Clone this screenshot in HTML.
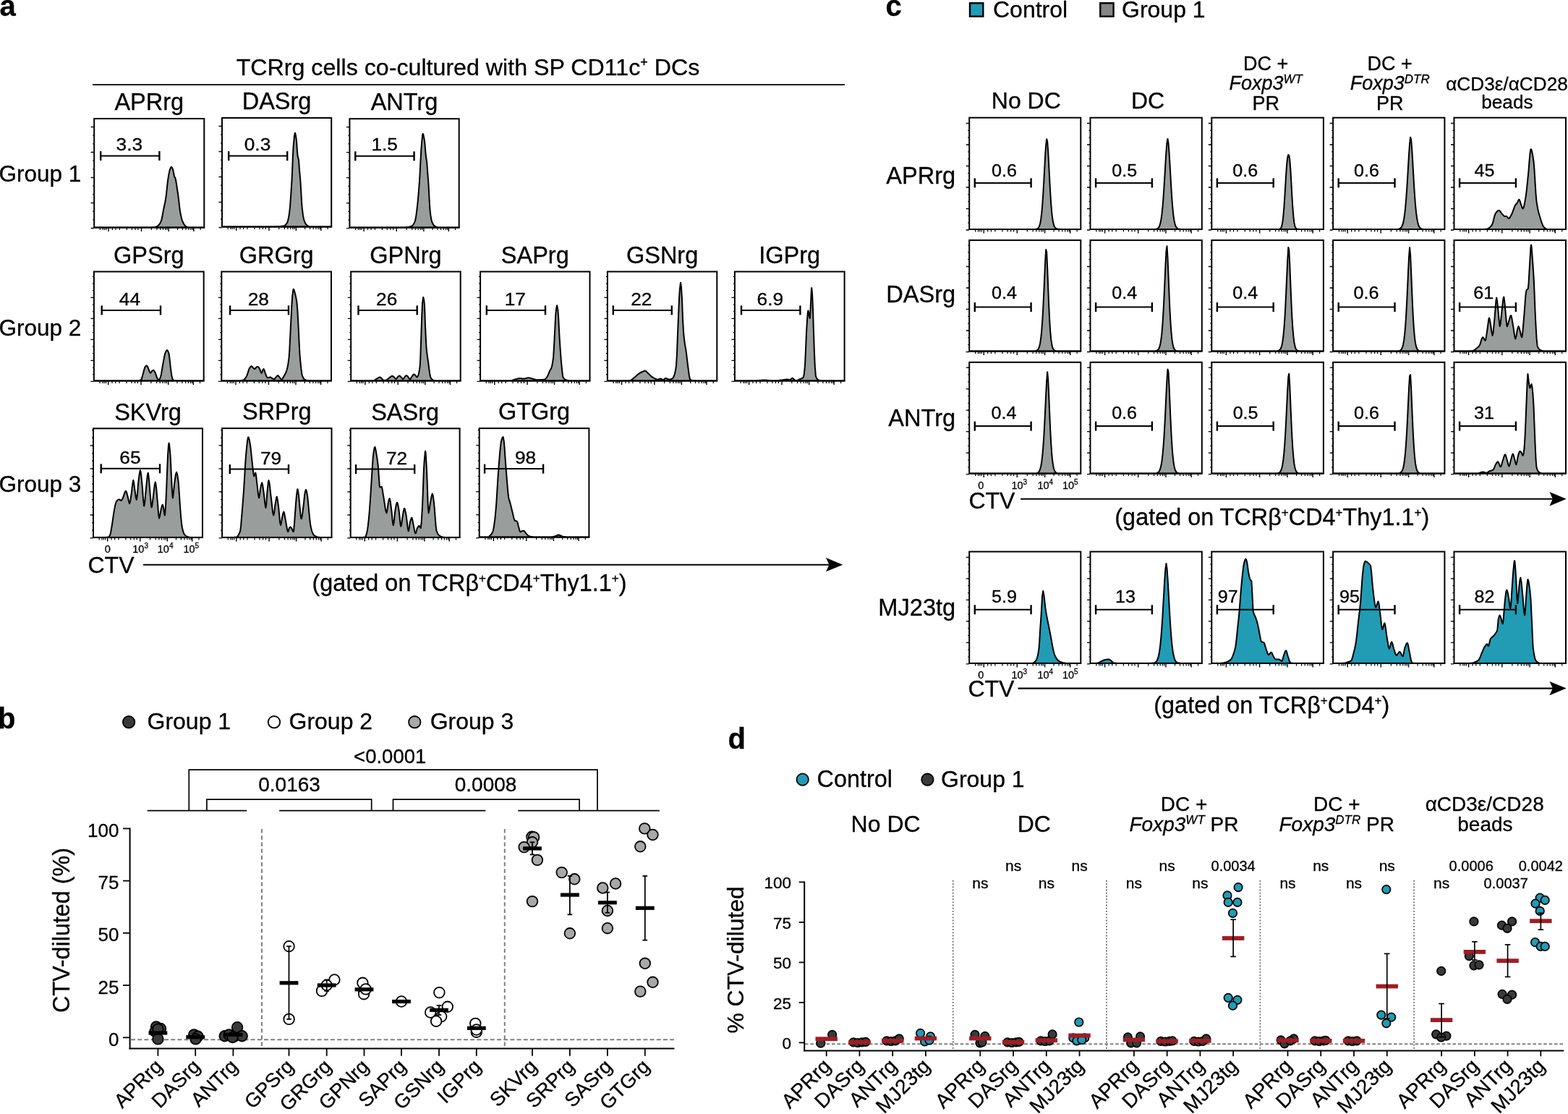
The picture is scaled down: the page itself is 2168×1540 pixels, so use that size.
<!DOCTYPE html>
<html><head><meta charset="utf-8"><title>Figure</title>
<style>html,body{margin:0;padding:0;background:#fff;}svg{display:block;}text{stroke:#000;stroke-width:0.3px;}</style></head>
<body><svg width="2168" height="1540" viewBox="0 0 2168 1540" font-family="Liberation Sans, Arial, Helvetica, sans-serif" fill="#000">
<rect width="2168" height="1540" fill="#fff"/>
<text x="-0.5" y="22" font-size="40" font-weight="bold">a</text>
<text x="647" y="104.4" font-size="32.2" text-anchor="middle">TCRrg cells co-cultured with SP CD11c<tspan font-size="18" dy="-12">+</tspan><tspan dy="12"> DCs</tspan></text>
<line x1="128" y1="117.2" x2="1168" y2="117.2" stroke="#000" stroke-width="1.8"/>
<path d="M130.2 314.5 130.2 314.5 207.2 314.5 208.2 314.4 209.2 314.4 210.2 314.3 211.2 314.3 212.2 314.2 213.2 314.1 214.0 314.0 214.2 314.0 215.2 313.7 216.2 313.3 217.2 312.8 218.2 312.1 219.0 311.5 219.2 311.3 220.2 310.3 221.2 308.8 222.2 306.9 223.0 305.0 223.2 304.4 224.2 300.1 225.2 294.4 226.0 290.0 226.2 289.0 227.2 284.4 228.2 279.7 229.2 274.3 229.4 273.0 230.2 266.5 231.2 256.7 232.0 250.0 232.2 248.6 233.2 242.1 234.2 237.1 234.5 236.0 235.2 233.8 236.2 231.4 237.0 230.6 237.2 230.7 238.2 232.2 239.2 235.0 239.5 236.0 240.2 239.8 241.0 244.0 241.2 244.4 242.2 245.9 242.5 246.5 243.2 249.5 244.2 256.0 244.5 258.0 245.2 262.5 246.2 269.3 246.7 273.0 247.2 277.1 248.2 286.1 249.0 292.0 249.2 293.1 250.2 298.3 251.2 302.5 252.0 305.0 252.2 305.5 253.2 307.8 254.2 309.7 255.2 311.2 256.0 312.0 256.2 312.2 257.2 312.9 258.2 313.6 259.2 314.1 260.2 314.4 261.0 314.5 282.3 314.5 Z" fill="#999d9c" stroke="#000" stroke-width="2" stroke-linejoin="round"/>
<path d="M125.7 315.5h4M125.7 280.5h4M125.7 245.5h4M125.7 210.5h4M125.7 175.5h4M150.0 315.0v5.0M195.5 315.0v5.0M233.2 315.0v5.0M267.9 315.0v5.0" stroke="#000" stroke-width="1.4" fill="none"/>
<path d="M128.2 303.8h1.5M128.2 292.2h1.5M128.2 280.5h1.5M128.2 268.8h1.5M128.2 257.2h1.5M128.2 245.5h1.5M128.2 233.8h1.5M128.2 222.2h1.5M128.2 210.5h1.5M128.2 198.8h1.5M128.2 187.2h1.5M128.2 175.5h1.5M138.4 315.0v3.0M142.3 315.0v3.0M144.6 315.0v3.0M146.9 315.0v3.0M155.4 315.0v3.0M160.0 315.0v3.0M165.4 315.0v3.0M175.4 315.0v3.0M182.4 315.0v3.0M187.0 315.0v3.0M190.8 315.0v3.0M209.3 315.0v3.0M217.0 315.0v3.0M221.7 315.0v3.0M225.5 315.0v3.0M228.6 315.0v3.0M230.9 315.0v3.0M245.5 315.0v3.0M252.5 315.0v3.0M257.1 315.0v3.0M261.0 315.0v3.0M264.0 315.0v3.0M266.3 315.0v3.0M277.1 315.0v3.0" stroke="#000" stroke-width="1.2" fill="none"/>
<rect x="130.2" y="164" width="152.1" height="150.5" fill="none" stroke="#000" stroke-width="2"/>
<text x="206.25" y="152.2" font-size="32.5" text-anchor="middle">APRrg</text>
<line x1="139.2" y1="215.4" x2="220.4" y2="215.4" stroke="#000" stroke-width="2"/>
<line x1="139.2" y1="208.9" x2="139.2" y2="221.9" stroke="#000" stroke-width="2.4"/>
<line x1="220.4" y1="208.9" x2="220.4" y2="221.9" stroke="#000" stroke-width="2.4"/>
<text transform="translate(178.9,207.8) scale(1.12,1)" font-size="23.5" text-anchor="middle">3.3</text>
<path d="M307 313.5 307.0 313.5 373.0 313.5 374.0 313.4 375.0 313.4 376.0 313.4 377.0 313.4 378.0 313.3 379.0 313.3 380.0 313.2 381.0 313.2 382.0 313.1 383.0 313.1 384.0 313.0 385.0 313.0 385.0 313.0 386.0 313.0 387.0 312.9 388.0 312.9 389.0 312.8 390.0 312.7 391.0 312.6 392.0 312.5 392.0 312.5 393.0 312.2 394.0 311.6 395.0 310.7 396.0 309.5 397.0 308.0 397.0 308.0 398.0 305.4 399.0 300.9 400.0 295.0 400.0 295.0 401.0 286.0 402.0 273.0 403.0 257.3 403.5 249.0 404.0 238.6 405.0 213.9 405.5 205.0 406.0 198.6 407.0 187.7 407.9 183.7 408.0 183.7 409.0 187.6 410.0 195.0 410.0 195.0 411.0 209.3 411.5 215.0 412.0 217.2 412.9 220.6 413.0 221.4 414.0 235.0 414.0 235.0 415.0 245.5 415.3 249.0 416.0 260.2 417.0 278.4 417.5 285.0 418.0 289.8 419.0 297.9 420.0 303.0 420.0 303.0 421.0 306.0 422.0 308.3 423.0 310.0 424.0 311.0 424.0 311.0 425.0 311.7 426.0 312.3 427.0 312.8 428.0 313.2 429.0 313.4 430.0 313.5 458.2 313.5 Z" fill="#999d9c" stroke="#000" stroke-width="2" stroke-linejoin="round"/>
<path d="M302.5 314.5h4M302.5 279.5h4M302.5 244.5h4M302.5 209.5h4M302.5 174.5h4M326.7 314.0v5.0M371.9 314.0v5.0M409.4 314.0v5.0M443.9 314.0v5.0" stroke="#000" stroke-width="1.4" fill="none"/>
<path d="M305.0 302.8h1.5M305.0 291.2h1.5M305.0 279.5h1.5M305.0 267.8h1.5M305.0 256.2h1.5M305.0 244.5h1.5M305.0 232.8h1.5M305.0 221.2h1.5M305.0 209.5h1.5M305.0 197.8h1.5M305.0 186.2h1.5M305.0 174.5h1.5M315.2 314.0v3.0M319.0 314.0v3.0M321.3 314.0v3.0M323.6 314.0v3.0M332.0 314.0v3.0M336.6 314.0v3.0M342.0 314.0v3.0M352.0 314.0v3.0M358.9 314.0v3.0M363.4 314.0v3.0M367.3 314.0v3.0M385.7 314.0v3.0M393.3 314.0v3.0M397.9 314.0v3.0M401.8 314.0v3.0M404.8 314.0v3.0M407.1 314.0v3.0M421.7 314.0v3.0M428.6 314.0v3.0M433.2 314.0v3.0M437.0 314.0v3.0M440.0 314.0v3.0M442.3 314.0v3.0M453.1 314.0v3.0" stroke="#000" stroke-width="1.2" fill="none"/>
<rect x="307" y="163" width="151.2" height="150.5" fill="none" stroke="#000" stroke-width="2"/>
<text x="382.6" y="151.2" font-size="32.5" text-anchor="middle">DASrg</text>
<line x1="316.2" y1="215.6" x2="397.2" y2="215.6" stroke="#000" stroke-width="2"/>
<line x1="316.2" y1="209.1" x2="316.2" y2="222.1" stroke="#000" stroke-width="2.4"/>
<line x1="397.2" y1="209.1" x2="397.2" y2="222.1" stroke="#000" stroke-width="2.4"/>
<text transform="translate(356,208.3) scale(1.12,1)" font-size="23.5" text-anchor="middle">0.3</text>
<path d="M483.4 314.6 483.4 314.6 537.4 314.6 538.4 314.5 539.4 314.5 540.4 314.5 541.4 314.5 542.4 314.5 543.4 314.5 544.4 314.5 545.4 314.5 546.4 314.5 547.4 314.5 548.4 314.5 549.4 314.5 550.4 314.5 551.4 314.5 552.4 314.5 553.4 314.5 554.4 314.5 555.0 314.5 555.4 314.5 556.4 314.5 557.4 314.4 558.4 314.4 559.4 314.3 560.4 314.3 561.4 314.2 562.4 314.1 563.4 314.0 564.4 313.9 565.0 313.8 565.4 313.7 566.4 313.5 567.4 313.2 568.4 312.8 569.4 312.3 570.0 312.0 570.4 311.7 571.4 310.6 572.4 308.9 573.4 306.6 574.0 305.0 574.4 303.6 575.4 297.8 576.4 290.1 577.0 285.0 577.4 281.4 578.4 270.8 579.4 258.3 580.0 250.0 580.4 243.5 581.4 223.8 582.4 206.3 582.5 205.0 583.4 193.8 584.4 185.4 584.7 184.8 585.4 186.1 586.4 191.2 587.0 195.0 587.4 198.5 588.4 210.9 588.8 215.0 589.4 219.0 590.1 223.7 590.4 227.0 591.0 235.0 591.4 240.1 592.4 253.5 592.5 255.0 593.4 271.9 594.4 289.0 594.5 290.0 595.4 297.7 596.4 303.8 597.0 306.0 597.4 307.0 598.4 309.3 599.4 311.0 600.4 312.1 601.0 312.5 601.4 312.7 602.4 313.2 603.4 313.6 604.4 313.9 605.4 314.2 606.4 314.4 607.4 314.5 608.0 314.5 608.4 314.5 609.4 314.5 610.4 314.5 611.4 314.5 612.4 314.5 613.4 314.5 614.4 314.5 615.4 314.6 634.7 314.6 Z" fill="#999d9c" stroke="#000" stroke-width="2" stroke-linejoin="round"/>
<path d="M478.9 315.6h4M478.9 280.6h4M478.9 245.6h4M478.9 210.6h4M478.9 175.6h4M503.1 315.1v5.0M548.3 315.1v5.0M585.9 315.1v5.0M620.4 315.1v5.0" stroke="#000" stroke-width="1.4" fill="none"/>
<path d="M481.4 303.9h1.5M481.4 292.3h1.5M481.4 280.6h1.5M481.4 268.9h1.5M481.4 257.3h1.5M481.4 245.6h1.5M481.4 233.9h1.5M481.4 222.3h1.5M481.4 210.6h1.5M481.4 198.9h1.5M481.4 187.3h1.5M481.4 175.6h1.5M491.6 315.1v3.0M495.4 315.1v3.0M497.7 315.1v3.0M500.0 315.1v3.0M508.5 315.1v3.0M513.1 315.1v3.0M518.4 315.1v3.0M528.4 315.1v3.0M535.3 315.1v3.0M539.9 315.1v3.0M543.7 315.1v3.0M562.1 315.1v3.0M569.8 315.1v3.0M574.4 315.1v3.0M578.2 315.1v3.0M581.3 315.1v3.0M583.6 315.1v3.0M598.1 315.1v3.0M605.0 315.1v3.0M609.6 315.1v3.0M613.5 315.1v3.0M616.5 315.1v3.0M618.8 315.1v3.0M629.6 315.1v3.0" stroke="#000" stroke-width="1.2" fill="none"/>
<rect x="483.4" y="164.2" width="151.3" height="150.4" fill="none" stroke="#000" stroke-width="2"/>
<text x="559.05" y="152.4" font-size="32.5" text-anchor="middle">ANTrg</text>
<line x1="491.3" y1="215.8" x2="572.6" y2="215.8" stroke="#000" stroke-width="2"/>
<line x1="491.3" y1="209.3" x2="491.3" y2="222.3" stroke="#000" stroke-width="2.4"/>
<line x1="572.6" y1="209.3" x2="572.6" y2="222.3" stroke="#000" stroke-width="2.4"/>
<text transform="translate(531.7,208.3) scale(1.12,1)" font-size="23.5" text-anchor="middle">1.5</text>
<path d="M129.9 526.4 129.9 526.4 190.9 526.4 191.9 526.2 192.9 525.9 193.9 525.5 194.9 525.1 195.0 525.0 195.9 523.4 196.9 520.0 197.9 516.3 198.0 516.0 198.9 512.6 199.9 508.9 200.5 507.5 200.9 506.9 201.9 505.7 202.7 505.3 202.9 505.3 203.9 506.7 204.9 508.8 205.0 509.0 205.9 511.3 206.9 514.2 207.9 515.8 208.0 515.8 208.9 514.8 209.9 513.1 210.0 513.0 210.9 512.3 211.9 511.8 212.0 511.8 212.9 512.4 213.9 513.9 214.5 515.0 214.9 515.9 215.9 518.9 216.9 521.8 217.0 522.0 217.9 523.8 218.9 525.3 219.3 525.5 219.9 525.2 220.9 523.6 221.9 521.3 222.0 521.0 222.9 517.4 223.9 511.5 224.9 505.5 225.0 505.0 225.9 500.1 226.9 494.5 227.9 489.8 228.5 488.0 228.9 487.1 229.9 485.1 230.9 484.0 231.1 484.0 231.9 484.7 232.9 487.1 233.5 489.0 233.9 491.0 234.9 499.7 235.5 505.0 235.9 508.3 236.9 516.6 237.5 520.0 237.9 521.6 238.9 524.7 239.5 525.5 239.9 525.7 240.9 526.0 241.9 526.2 242.9 526.4 281.7 526.4 Z" fill="#999d9c" stroke="#000" stroke-width="2" stroke-linejoin="round"/>
<path d="M125.4 527.4h4M125.4 498.4h4M125.4 469.4h4M125.4 440.4h4M125.4 411.4h4M149.7 526.9v5.0M195.0 526.9v5.0M232.7 526.9v5.0M267.3 526.9v5.0" stroke="#000" stroke-width="1.4" fill="none"/>
<path d="M127.9 517.7h1.5M127.9 508.1h1.5M127.9 498.4h1.5M127.9 488.7h1.5M127.9 479.1h1.5M127.9 469.4h1.5M127.9 459.7h1.5M127.9 450.1h1.5M127.9 440.4h1.5M127.9 430.7h1.5M127.9 421.1h1.5M127.9 411.4h1.5M127.9 401.7h1.5M127.9 392.1h1.5M127.9 382.4h1.5M138.1 526.9v3.0M142.0 526.9v3.0M144.3 526.9v3.0M146.6 526.9v3.0M155.0 526.9v3.0M159.7 526.9v3.0M165.0 526.9v3.0M175.0 526.9v3.0M182.0 526.9v3.0M186.6 526.9v3.0M190.4 526.9v3.0M208.9 526.9v3.0M216.6 526.9v3.0M221.2 526.9v3.0M225.0 526.9v3.0M228.1 526.9v3.0M230.4 526.9v3.0M245.0 526.9v3.0M251.9 526.9v3.0M256.6 526.9v3.0M260.4 526.9v3.0M263.5 526.9v3.0M265.8 526.9v3.0M276.5 526.9v3.0" stroke="#000" stroke-width="1.2" fill="none"/>
<rect x="129.9" y="375.5" width="151.8" height="150.9" fill="none" stroke="#000" stroke-width="2"/>
<text x="205.8" y="363.7" font-size="32.5" text-anchor="middle">GPSrg</text>
<line x1="140.7" y1="428.9" x2="222" y2="428.9" stroke="#000" stroke-width="2"/>
<line x1="140.7" y1="422.4" x2="140.7" y2="435.4" stroke="#000" stroke-width="2.4"/>
<line x1="222" y1="422.4" x2="222" y2="435.4" stroke="#000" stroke-width="2.4"/>
<text transform="translate(179.4,421.8) scale(1.12,1)" font-size="23.5" text-anchor="middle">44</text>
<path d="M306.3 526.4 306.3 526.4 331.3 526.4 332.3 526.3 333.3 526.1 334.3 526.0 335.3 525.7 336.3 525.5 336.3 525.5 337.3 525.0 338.3 524.0 339.3 522.7 340.3 521.1 341.0 520.0 341.3 519.4 342.3 516.7 343.3 513.4 344.3 510.5 345.0 509.0 345.3 508.5 346.3 507.0 347.3 506.2 347.6 506.1 348.3 506.5 349.3 507.7 350.0 508.5 350.3 508.8 351.3 509.7 352.2 510.1 352.3 510.1 353.3 509.0 354.3 507.6 354.5 507.5 355.3 507.2 356.3 506.9 356.5 506.9 357.3 507.4 358.3 508.8 359.0 510.0 359.3 510.6 360.3 513.3 361.3 515.5 361.7 515.8 362.3 514.7 363.3 511.4 363.5 511.0 364.3 510.2 364.6 510.1 365.3 511.2 366.3 514.5 366.5 515.0 367.3 517.1 368.3 519.9 369.3 521.9 369.9 522.3 370.3 522.3 371.3 522.0 372.3 521.7 373.3 521.4 373.8 521.4 374.3 521.5 375.3 522.2 376.3 523.1 377.0 523.5 377.3 523.6 378.3 523.8 379.1 523.9 379.3 523.9 380.3 523.1 381.3 521.8 382.0 521.0 382.3 520.7 383.3 519.4 384.0 519.0 384.3 519.1 385.3 520.0 386.3 521.3 386.5 521.5 387.3 522.6 388.3 524.0 389.3 524.7 389.3 524.7 390.3 523.9 391.3 522.2 392.0 521.0 392.3 520.5 393.3 518.9 394.3 517.0 395.3 514.8 396.3 512.1 396.4 511.8 397.3 508.5 398.3 503.6 399.3 496.6 399.5 495.0 400.3 484.1 401.3 464.0 402.0 450.0 402.3 444.3 403.3 423.6 404.2 410.0 404.3 409.1 405.3 401.0 405.8 399.6 406.3 400.1 407.3 403.3 408.0 406.0 408.3 407.1 409.3 411.4 410.3 417.4 410.6 419.7 411.3 428.4 412.3 446.4 412.5 450.0 413.3 466.8 414.3 487.2 414.5 490.0 415.3 499.4 416.3 509.4 417.3 516.5 417.9 519.0 418.3 520.1 419.3 522.4 420.3 523.9 421.0 524.5 421.3 524.7 422.3 525.1 423.3 525.5 424.3 525.8 425.3 526.0 426.3 526.2 426.7 526.2 427.3 526.2 428.3 526.3 429.3 526.3 430.3 526.3 431.3 526.4 458.0 526.4 Z" fill="#999d9c" stroke="#000" stroke-width="2" stroke-linejoin="round"/>
<path d="M301.8 527.4h4M301.8 498.4h4M301.8 469.4h4M301.8 440.4h4M301.8 411.4h4M326.0 526.9v5.0M371.4 526.9v5.0M409.0 526.9v5.0M443.6 526.9v5.0" stroke="#000" stroke-width="1.4" fill="none"/>
<path d="M304.3 517.7h1.5M304.3 508.1h1.5M304.3 498.4h1.5M304.3 488.7h1.5M304.3 479.1h1.5M304.3 469.4h1.5M304.3 459.7h1.5M304.3 450.1h1.5M304.3 440.4h1.5M304.3 430.7h1.5M304.3 421.1h1.5M304.3 411.4h1.5M304.3 401.7h1.5M304.3 392.1h1.5M304.3 382.4h1.5M314.5 526.9v3.0M318.4 526.9v3.0M320.7 526.9v3.0M323.0 526.9v3.0M331.4 526.9v3.0M336.0 526.9v3.0M341.4 526.9v3.0M351.4 526.9v3.0M358.3 526.9v3.0M362.9 526.9v3.0M366.8 526.9v3.0M385.2 526.9v3.0M392.9 526.9v3.0M397.5 526.9v3.0M401.4 526.9v3.0M404.4 526.9v3.0M406.7 526.9v3.0M421.3 526.9v3.0M428.3 526.9v3.0M432.9 526.9v3.0M436.7 526.9v3.0M439.8 526.9v3.0M442.1 526.9v3.0M452.9 526.9v3.0" stroke="#000" stroke-width="1.2" fill="none"/>
<rect x="306.3" y="375.5" width="151.7" height="150.9" fill="none" stroke="#000" stroke-width="2"/>
<text x="382.15" y="363.7" font-size="32.5" text-anchor="middle">GRGrg</text>
<line x1="318.1" y1="428.9" x2="399" y2="428.9" stroke="#000" stroke-width="2"/>
<line x1="318.1" y1="422.4" x2="318.1" y2="435.4" stroke="#000" stroke-width="2.4"/>
<line x1="399" y1="422.4" x2="399" y2="435.4" stroke="#000" stroke-width="2.4"/>
<text transform="translate(357.3,421.8) scale(1.12,1)" font-size="23.5" text-anchor="middle">28</text>
<path d="M485.2 526.4 485.2 526.4 513.2 526.4 514.2 526.3 515.2 526.2 516.2 526.1 517.0 526.0 517.2 526.0 518.2 525.5 519.2 524.8 520.2 524.0 521.0 523.5 521.2 523.4 522.2 522.8 523.2 522.2 524.2 521.7 525.2 521.4 525.4 521.4 526.2 521.7 527.2 522.7 528.0 523.5 528.2 523.7 529.2 524.8 530.2 525.7 530.7 525.8 531.2 525.8 532.2 525.7 533.2 525.6 534.0 525.5 534.2 525.5 535.2 524.9 536.2 524.1 537.2 523.1 538.0 522.5 538.2 522.4 539.2 521.6 540.2 520.8 541.2 520.2 542.2 519.8 542.5 519.8 543.2 520.0 544.2 520.8 545.0 521.5 545.2 521.7 546.2 522.8 547.2 523.8 547.6 523.9 548.2 523.5 549.2 522.0 550.0 521.0 550.2 520.8 551.2 520.0 552.2 519.5 552.5 519.5 553.2 519.8 554.2 520.9 555.0 521.8 555.2 522.0 556.2 523.2 557.2 523.9 557.3 523.9 558.2 523.2 559.2 521.6 560.0 520.5 560.2 520.3 561.2 519.4 562.2 519.0 562.2 519.0 563.2 519.7 564.2 521.1 564.5 521.5 565.2 522.4 566.2 523.8 567.0 524.3 567.2 524.3 568.2 522.9 569.2 521.0 569.5 520.5 570.2 519.5 571.2 518.1 572.2 517.4 572.2 517.4 573.2 517.8 574.2 518.7 574.5 519.0 575.2 519.9 576.2 521.2 576.7 521.4 577.2 521.0 578.2 518.8 578.5 518.0 579.2 515.5 580.2 509.6 580.7 505.3 581.2 496.9 582.2 468.4 582.5 460.0 583.2 438.7 584.0 420.0 584.2 417.9 585.2 411.0 585.3 410.9 586.2 414.6 586.8 420.0 587.2 427.6 588.0 450.0 588.2 454.5 589.2 475.3 589.6 481.1 590.2 487.1 591.2 494.6 592.0 500.0 592.2 501.5 593.2 509.3 594.2 516.5 595.2 521.2 595.3 521.4 596.2 523.1 597.2 524.4 598.0 525.0 598.2 525.1 599.2 525.6 600.2 526.0 601.2 526.3 602.2 526.4 636.7 526.4 Z" fill="#999d9c" stroke="#000" stroke-width="2" stroke-linejoin="round"/>
<path d="M480.7 527.4h4M480.7 498.4h4M480.7 469.4h4M480.7 440.4h4M480.7 411.4h4M504.9 526.9v5.0M550.2 526.9v5.0M587.8 526.9v5.0M622.4 526.9v5.0" stroke="#000" stroke-width="1.4" fill="none"/>
<path d="M483.2 517.7h1.5M483.2 508.1h1.5M483.2 498.4h1.5M483.2 488.7h1.5M483.2 479.1h1.5M483.2 469.4h1.5M483.2 459.7h1.5M483.2 450.1h1.5M483.2 440.4h1.5M483.2 430.7h1.5M483.2 421.1h1.5M483.2 411.4h1.5M483.2 401.7h1.5M483.2 392.1h1.5M483.2 382.4h1.5M493.4 526.9v3.0M497.2 526.9v3.0M499.6 526.9v3.0M501.9 526.9v3.0M510.3 526.9v3.0M514.9 526.9v3.0M520.3 526.9v3.0M530.2 526.9v3.0M537.2 526.9v3.0M541.8 526.9v3.0M545.6 526.9v3.0M564.0 526.9v3.0M571.7 526.9v3.0M576.3 526.9v3.0M580.1 526.9v3.0M583.2 526.9v3.0M585.5 526.9v3.0M600.1 526.9v3.0M607.0 526.9v3.0M611.6 526.9v3.0M615.4 526.9v3.0M618.5 526.9v3.0M620.8 526.9v3.0M631.6 526.9v3.0" stroke="#000" stroke-width="1.2" fill="none"/>
<rect x="485.2" y="375.5" width="151.5" height="150.9" fill="none" stroke="#000" stroke-width="2"/>
<text x="560.95" y="363.7" font-size="32.5" text-anchor="middle">GPNrg</text>
<line x1="495.5" y1="428.9" x2="576.7" y2="428.9" stroke="#000" stroke-width="2"/>
<line x1="495.5" y1="422.4" x2="495.5" y2="435.4" stroke="#000" stroke-width="2.4"/>
<line x1="576.7" y1="422.4" x2="576.7" y2="435.4" stroke="#000" stroke-width="2.4"/>
<text transform="translate(534.7,421.8) scale(1.12,1)" font-size="23.5" text-anchor="middle">26</text>
<path d="M664.1 526.4 664.1 526.4 703.1 526.4 704.1 526.3 705.1 526.3 705.9 526.3 706.1 526.3 707.1 526.1 708.1 525.9 709.1 525.5 710.1 525.1 711.1 524.8 712.0 524.5 712.1 524.5 713.1 524.2 714.1 523.9 715.1 523.6 716.1 523.4 717.1 523.2 718.1 523.0 718.8 523.0 719.1 523.0 720.1 523.1 721.1 523.2 722.1 523.4 723.1 523.6 724.0 523.6 724.1 523.6 725.1 523.5 726.1 523.3 727.1 523.0 728.1 522.8 729.1 522.5 730.1 522.3 730.9 522.3 731.1 522.3 732.1 522.4 733.1 522.6 734.1 522.9 735.1 523.2 736.1 523.6 737.0 523.8 737.1 523.8 738.1 524.1 739.1 524.4 740.1 524.7 741.1 525.0 742.1 525.1 743.0 525.2 743.1 525.2 744.1 525.2 745.1 525.1 746.1 525.1 747.1 525.0 748.0 525.0 748.1 525.0 749.1 525.0 750.1 524.9 751.1 524.8 752.1 524.8 752.7 524.7 753.1 524.6 754.1 523.9 755.1 522.8 756.1 521.4 757.0 520.0 757.1 519.8 758.1 517.7 759.1 515.1 760.0 513.0 760.1 512.8 761.1 511.1 762.1 509.3 762.4 508.5 763.1 506.2 764.1 501.3 765.0 495.0 765.1 494.1 766.1 477.8 767.0 460.0 767.1 458.2 768.1 438.3 768.7 430.0 769.1 426.8 770.1 422.2 770.1 422.2 771.1 426.8 771.5 430.0 772.1 438.0 773.1 457.9 773.5 465.0 774.1 474.3 775.1 489.0 776.0 500.0 776.1 501.1 777.1 511.9 778.1 520.0 778.5 521.4 779.1 522.4 780.1 523.7 781.1 524.6 782.0 525.0 782.1 525.0 783.1 525.3 784.1 525.6 785.1 525.9 786.1 526.1 787.1 526.2 788.1 526.3 789.1 526.4 815.5 526.4 Z" fill="#999d9c" stroke="#000" stroke-width="2" stroke-linejoin="round"/>
<path d="M659.6 527.4h4M659.6 498.4h4M659.6 469.4h4M659.6 440.4h4M659.6 411.4h4M683.8 526.9v5.0M729.1 526.9v5.0M766.6 526.9v5.0M801.2 526.9v5.0" stroke="#000" stroke-width="1.4" fill="none"/>
<path d="M662.1 517.7h1.5M662.1 508.1h1.5M662.1 498.4h1.5M662.1 488.7h1.5M662.1 479.1h1.5M662.1 469.4h1.5M662.1 459.7h1.5M662.1 450.1h1.5M662.1 440.4h1.5M662.1 430.7h1.5M662.1 421.1h1.5M662.1 411.4h1.5M662.1 401.7h1.5M662.1 392.1h1.5M662.1 382.4h1.5M672.3 526.9v3.0M676.1 526.9v3.0M678.4 526.9v3.0M680.7 526.9v3.0M689.2 526.9v3.0M693.8 526.9v3.0M699.1 526.9v3.0M709.1 526.9v3.0M716.0 526.9v3.0M720.6 526.9v3.0M724.5 526.9v3.0M742.9 526.9v3.0M750.5 526.9v3.0M755.1 526.9v3.0M759.0 526.9v3.0M762.0 526.9v3.0M764.3 526.9v3.0M778.9 526.9v3.0M785.8 526.9v3.0M790.4 526.9v3.0M794.3 526.9v3.0M797.3 526.9v3.0M799.6 526.9v3.0M810.4 526.9v3.0" stroke="#000" stroke-width="1.2" fill="none"/>
<rect x="664.1" y="375.5" width="151.4" height="150.9" fill="none" stroke="#000" stroke-width="2"/>
<text x="739.8" y="363.7" font-size="32.5" text-anchor="middle">SAPrg</text>
<line x1="672.8" y1="428.9" x2="754" y2="428.9" stroke="#000" stroke-width="2"/>
<line x1="672.8" y1="422.4" x2="672.8" y2="435.4" stroke="#000" stroke-width="2.4"/>
<line x1="754" y1="422.4" x2="754" y2="435.4" stroke="#000" stroke-width="2.4"/>
<text transform="translate(712.3,421.8) scale(1.12,1)" font-size="23.5" text-anchor="middle">17</text>
<path d="M839.9 526.4 839.9 526.4 864.9 526.4 865.9 526.3 866.9 526.3 867.9 526.3 868.9 526.3 869.9 526.2 870.4 526.2 870.9 526.1 871.9 525.8 872.9 525.2 873.9 524.5 874.9 523.7 875.9 522.9 876.9 522.1 877.0 522.0 877.9 521.3 878.9 520.4 879.9 519.5 880.9 518.6 881.9 517.7 882.9 516.9 883.3 516.6 883.9 516.2 884.9 515.6 885.9 515.0 886.9 514.5 887.9 514.0 888.0 514.0 888.9 513.6 889.9 513.2 890.9 512.8 891.9 512.6 892.2 512.6 892.9 512.8 893.9 513.7 894.9 514.8 895.9 515.9 896.0 516.0 896.9 516.8 897.9 517.8 898.9 518.8 899.9 519.7 900.9 520.5 901.0 520.6 901.9 521.2 902.9 521.9 903.9 522.4 904.9 523.0 905.0 523.0 905.9 523.5 906.9 524.0 907.9 524.5 908.9 524.7 909.1 524.7 909.9 524.6 910.9 524.2 911.9 523.7 912.9 523.5 913.0 523.5 913.9 523.7 914.9 524.2 915.9 524.7 916.9 525.0 917.0 525.0 917.9 524.7 918.9 523.8 919.9 523.1 920.4 523.0 920.9 523.0 921.9 523.4 922.9 523.8 923.9 524.3 924.9 524.5 925.0 524.5 925.9 524.5 926.9 524.3 927.9 524.0 928.9 523.6 929.9 523.1 930.1 523.0 930.9 522.0 931.9 519.7 932.5 518.0 932.9 516.7 933.9 512.6 934.9 506.1 935.0 505.3 935.9 490.5 936.9 464.9 937.5 450.0 937.9 440.4 938.9 415.6 939.5 405.0 939.9 399.9 940.9 391.0 941.1 390.7 941.9 396.3 942.8 410.0 942.9 411.8 943.9 437.8 944.0 440.0 944.9 456.6 945.4 463.3 945.9 468.1 946.9 475.3 947.0 476.0 947.9 481.2 948.7 485.9 948.9 487.3 949.9 495.8 950.9 504.3 951.0 505.0 951.9 511.8 952.9 519.2 953.9 524.0 954.3 524.7 954.9 525.1 955.9 525.5 956.9 525.8 957.9 526.0 958.0 526.0 958.9 526.1 959.9 526.2 960.9 526.2 961.9 526.3 962.9 526.3 963.9 526.4 991.3 526.4 Z" fill="#999d9c" stroke="#000" stroke-width="2" stroke-linejoin="round"/>
<path d="M835.4 527.4h4M835.4 498.4h4M835.4 469.4h4M835.4 440.4h4M835.4 411.4h4M859.6 526.9v5.0M904.9 526.9v5.0M942.4 526.9v5.0M977.0 526.9v5.0" stroke="#000" stroke-width="1.4" fill="none"/>
<path d="M837.9 517.7h1.5M837.9 508.1h1.5M837.9 498.4h1.5M837.9 488.7h1.5M837.9 479.1h1.5M837.9 469.4h1.5M837.9 459.7h1.5M837.9 450.1h1.5M837.9 440.4h1.5M837.9 430.7h1.5M837.9 421.1h1.5M837.9 411.4h1.5M837.9 401.7h1.5M837.9 392.1h1.5M837.9 382.4h1.5M848.1 526.9v3.0M851.9 526.9v3.0M854.2 526.9v3.0M856.5 526.9v3.0M865.0 526.9v3.0M869.6 526.9v3.0M874.9 526.9v3.0M884.9 526.9v3.0M891.8 526.9v3.0M896.4 526.9v3.0M900.3 526.9v3.0M918.7 526.9v3.0M926.3 526.9v3.0M930.9 526.9v3.0M934.8 526.9v3.0M937.8 526.9v3.0M940.1 526.9v3.0M954.7 526.9v3.0M961.6 526.9v3.0M966.2 526.9v3.0M970.1 526.9v3.0M973.1 526.9v3.0M975.4 526.9v3.0M986.2 526.9v3.0" stroke="#000" stroke-width="1.2" fill="none"/>
<rect x="839.9" y="375.5" width="151.4" height="150.9" fill="none" stroke="#000" stroke-width="2"/>
<text x="915.6" y="363.7" font-size="32.5" text-anchor="middle">GSNrg</text>
<line x1="847.8" y1="428.9" x2="928.8" y2="428.9" stroke="#000" stroke-width="2"/>
<line x1="847.8" y1="422.4" x2="847.8" y2="435.4" stroke="#000" stroke-width="2.4"/>
<line x1="928.8" y1="422.4" x2="928.8" y2="435.4" stroke="#000" stroke-width="2.4"/>
<text transform="translate(886.8,421.8) scale(1.12,1)" font-size="23.5" text-anchor="middle">22</text>
<path d="M1015.9 526.4 1015.9 526.4 1041.9 526.4 1042.9 526.3 1043.9 526.3 1044.9 526.2 1045.9 526.2 1046.9 526.1 1047.9 526.0 1048.9 525.9 1049.9 525.9 1050.9 525.8 1051.9 525.7 1052.9 525.7 1053.9 525.6 1054.9 525.6 1055.9 525.5 1056.9 525.5 1057.6 525.5 1057.9 525.5 1058.9 525.5 1059.9 525.6 1060.9 525.7 1061.9 525.7 1062.9 525.9 1063.9 526.0 1064.9 526.1 1065.9 526.2 1066.9 526.3 1067.9 526.3 1068.9 526.4 1070.9 526.4 1071.9 526.3 1072.9 526.3 1073.9 526.2 1074.9 526.1 1075.9 526.0 1076.9 525.9 1077.9 525.7 1078.9 525.6 1079.9 525.5 1080.0 525.5 1080.9 525.4 1081.9 525.2 1082.9 525.1 1083.9 524.9 1084.9 524.8 1085.9 524.7 1086.9 524.6 1087.9 524.5 1088.3 524.5 1088.9 524.5 1089.9 524.7 1090.9 524.9 1091.9 525.0 1092.0 525.0 1092.9 524.6 1093.9 523.8 1094.9 522.9 1095.6 522.7 1095.9 522.8 1096.9 523.5 1097.9 524.5 1098.5 525.0 1098.9 525.3 1099.9 525.9 1100.9 526.4 1101.2 526.4 1101.9 526.3 1102.9 525.8 1103.9 525.2 1104.9 524.6 1105.0 524.5 1105.9 524.1 1106.9 523.8 1107.9 523.4 1108.9 523.0 1109.9 522.4 1110.9 521.4 1110.9 521.4 1111.9 516.4 1112.9 506.2 1113.0 505.0 1113.9 486.4 1114.9 461.8 1115.0 460.0 1115.9 444.5 1116.9 431.5 1117.4 429.4 1117.9 430.6 1118.9 436.6 1119.8 439.9 1119.9 439.6 1120.9 421.9 1121.0 420.0 1121.9 400.4 1122.2 397.9 1122.9 404.3 1123.5 415.0 1123.9 424.6 1124.9 457.1 1125.0 460.0 1125.9 486.0 1126.5 500.0 1126.9 507.4 1127.9 519.8 1127.9 519.8 1128.9 522.5 1129.9 524.1 1130.9 525.0 1131.0 525.0 1131.9 525.4 1132.9 525.8 1133.9 526.0 1134.9 526.2 1135.9 526.4 1167.6 526.4 Z" fill="#999d9c" stroke="#000" stroke-width="2" stroke-linejoin="round"/>
<path d="M1011.4 527.4h4M1011.4 498.4h4M1011.4 469.4h4M1011.4 440.4h4M1011.4 411.4h4M1035.6 526.9v5.0M1081.0 526.9v5.0M1118.6 526.9v5.0M1153.2 526.9v5.0" stroke="#000" stroke-width="1.4" fill="none"/>
<path d="M1013.9 517.7h1.5M1013.9 508.1h1.5M1013.9 498.4h1.5M1013.9 488.7h1.5M1013.9 479.1h1.5M1013.9 469.4h1.5M1013.9 459.7h1.5M1013.9 450.1h1.5M1013.9 440.4h1.5M1013.9 430.7h1.5M1013.9 421.1h1.5M1013.9 411.4h1.5M1013.9 401.7h1.5M1013.9 392.1h1.5M1013.9 382.4h1.5M1024.1 526.9v3.0M1028.0 526.9v3.0M1030.3 526.9v3.0M1032.6 526.9v3.0M1041.0 526.9v3.0M1045.6 526.9v3.0M1051.0 526.9v3.0M1061.0 526.9v3.0M1067.9 526.9v3.0M1072.5 526.9v3.0M1076.4 526.9v3.0M1094.8 526.9v3.0M1102.5 526.9v3.0M1107.1 526.9v3.0M1111.0 526.9v3.0M1114.0 526.9v3.0M1116.3 526.9v3.0M1130.9 526.9v3.0M1137.9 526.9v3.0M1142.5 526.9v3.0M1146.3 526.9v3.0M1149.4 526.9v3.0M1151.7 526.9v3.0M1162.5 526.9v3.0" stroke="#000" stroke-width="1.2" fill="none"/>
<rect x="1015.9" y="375.5" width="151.7" height="150.9" fill="none" stroke="#000" stroke-width="2"/>
<text x="1091.75" y="363.7" font-size="32.5" text-anchor="middle">IGPrg</text>
<line x1="1025" y1="428.9" x2="1106.4" y2="428.9" stroke="#000" stroke-width="2"/>
<line x1="1025" y1="422.4" x2="1025" y2="435.4" stroke="#000" stroke-width="2.4"/>
<line x1="1106.4" y1="422.4" x2="1106.4" y2="435.4" stroke="#000" stroke-width="2.4"/>
<text transform="translate(1064.9,421.8) scale(1.12,1)" font-size="23.5" text-anchor="middle">6.9</text>
<path d="M129 742.9 129.0 742.9 146.0 742.9 147.0 742.8 148.0 742.8 149.0 742.7 150.0 742.5 150.0 742.5 151.0 741.7 152.0 740.0 152.0 740.0 153.0 736.5 154.0 731.0 155.0 725.0 155.0 725.0 156.0 718.4 157.0 711.1 158.0 705.0 158.0 705.0 159.0 699.9 160.0 695.5 161.0 693.0 161.0 693.0 162.0 691.9 163.0 691.1 164.0 690.5 164.8 690.4 165.0 690.4 166.0 691.1 167.0 691.9 167.5 692.0 168.0 691.7 169.0 690.1 170.0 688.0 170.0 688.0 171.0 685.4 172.0 682.3 173.0 679.7 173.9 678.7 174.0 678.7 175.0 680.5 176.0 684.2 177.0 688.0 177.0 688.0 178.0 692.7 179.0 696.2 179.1 696.2 180.0 693.7 181.0 687.1 182.0 680.0 182.0 680.0 183.0 671.5 184.0 664.3 184.3 663.8 185.0 666.3 186.0 674.3 186.5 678.0 187.0 681.4 188.0 688.5 188.8 691.0 189.0 690.7 190.0 682.3 191.0 669.8 191.5 665.0 192.0 661.1 193.0 653.6 194.0 650.1 194.0 650.1 195.0 654.9 196.0 665.0 196.5 670.0 197.0 675.7 198.0 689.9 199.0 699.2 199.2 699.5 200.0 696.0 201.0 685.6 202.0 675.0 202.0 675.0 203.0 665.1 204.0 656.2 204.7 653.8 205.0 654.5 206.0 663.4 207.0 675.0 207.0 675.0 208.0 687.4 209.0 698.9 209.6 701.4 210.0 700.6 211.0 693.5 212.0 685.0 212.0 685.0 213.0 676.8 214.0 669.0 214.8 666.4 215.0 666.6 216.0 673.4 217.0 684.7 217.5 690.0 218.0 695.8 219.0 709.4 220.0 716.4 220.0 716.4 221.0 713.3 222.0 707.4 222.5 705.0 223.0 703.0 224.0 699.1 224.9 697.5 225.0 697.6 226.0 702.0 226.5 705.0 227.0 708.5 227.8 712.5 228.0 712.1 229.0 699.6 230.0 680.0 230.0 680.0 231.0 654.1 232.0 630.0 232.0 630.0 233.0 615.9 233.6 612.5 234.0 613.7 235.0 623.6 235.5 630.0 236.0 638.3 237.0 660.3 237.5 670.0 238.0 679.2 238.8 688.4 239.0 688.1 240.0 680.0 241.0 670.0 241.0 670.0 242.0 662.5 243.0 655.7 244.0 652.7 244.0 652.7 245.0 655.3 246.0 661.4 246.5 665.0 247.0 670.0 248.0 684.9 249.0 700.0 249.0 700.0 250.0 713.0 251.0 723.6 251.2 725.0 252.0 729.7 253.0 734.2 254.0 737.0 254.0 737.0 255.0 738.7 256.0 739.9 257.0 740.9 258.0 741.5 258.0 741.5 259.0 741.9 260.0 742.3 261.0 742.6 262.0 742.8 263.0 742.9 280.0 742.9 Z" fill="#999d9c" stroke="#000" stroke-width="2" stroke-linejoin="round"/>
<path d="M124.5 743.9h4M124.5 711.9h4M124.5 679.9h4M124.5 647.9h4M124.5 615.9h4M148.7 743.4v5.0M193.8 743.4v5.0M231.3 743.4v5.0M265.7 743.4v5.0" stroke="#000" stroke-width="1.4" fill="none"/>
<path d="M127.0 733.2h1.5M127.0 722.6h1.5M127.0 711.9h1.5M127.0 701.2h1.5M127.0 690.6h1.5M127.0 679.9h1.5M127.0 669.2h1.5M127.0 658.6h1.5M127.0 647.9h1.5M127.0 637.2h1.5M127.0 626.6h1.5M127.0 615.9h1.5M127.0 605.2h1.5M127.0 594.6h1.5M137.2 743.4v3.0M141.0 743.4v3.0M143.3 743.4v3.0M145.6 743.4v3.0M154.0 743.4v3.0M158.6 743.4v3.0M164.0 743.4v3.0M173.9 743.4v3.0M180.8 743.4v3.0M185.4 743.4v3.0M189.2 743.4v3.0M207.6 743.4v3.0M215.2 743.4v3.0M219.8 743.4v3.0M223.6 743.4v3.0M226.7 743.4v3.0M229.0 743.4v3.0M243.5 743.4v3.0M250.4 743.4v3.0M255.0 743.4v3.0M258.8 743.4v3.0M261.9 743.4v3.0M264.2 743.4v3.0M274.9 743.4v3.0" stroke="#000" stroke-width="1.2" fill="none"/>
<rect x="129" y="592.3" width="151" height="150.6" fill="none" stroke="#000" stroke-width="2"/>
<text x="204.5" y="580.5" font-size="32.5" text-anchor="middle">SKVrg</text>
<line x1="139.7" y1="647.8" x2="221" y2="647.8" stroke="#000" stroke-width="2"/>
<line x1="139.7" y1="641.3" x2="139.7" y2="654.3" stroke="#000" stroke-width="2.4"/>
<line x1="221" y1="641.3" x2="221" y2="654.3" stroke="#000" stroke-width="2.4"/>
<text transform="translate(180,641) scale(1.12,1)" font-size="23.5" text-anchor="middle">65</text>
<path d="M307.1 742.9 307.1 742.9 323.1 742.9 324.1 742.8 325.1 742.8 326.1 742.7 327.1 742.5 327.4 742.5 328.1 742.1 329.1 740.6 330.0 739.0 330.1 738.8 331.1 737.0 332.1 734.2 332.3 733.4 333.1 727.2 334.1 714.9 334.5 710.0 335.1 702.9 336.1 690.5 337.1 676.9 337.1 676.9 338.1 660.3 339.1 642.6 340.0 630.0 340.1 628.9 341.1 618.1 342.1 609.0 343.1 604.4 343.3 604.2 344.1 605.6 345.1 610.0 346.0 615.0 346.1 615.6 347.1 624.0 348.1 633.9 348.4 636.5 349.1 643.0 350.1 652.6 351.1 658.1 351.3 658.3 352.1 656.6 353.1 653.6 353.3 653.5 354.1 657.1 355.1 666.6 355.5 670.0 356.1 675.0 357.1 683.9 358.1 688.2 358.1 688.2 359.1 683.3 360.1 675.5 360.2 675.0 361.1 670.4 362.1 667.2 362.2 667.2 363.1 670.2 364.1 677.3 364.5 680.0 365.1 684.7 366.1 694.2 367.1 701.1 367.5 701.9 368.1 698.3 369.1 684.6 369.5 680.0 370.1 673.8 371.1 665.1 371.5 664.0 372.1 665.5 373.1 672.7 374.1 681.8 374.5 685.0 375.1 689.9 376.1 699.3 377.1 707.8 378.1 712.3 378.3 712.4 379.1 709.1 380.1 700.8 380.5 698.0 381.1 694.1 382.1 688.0 382.7 686.6 383.1 687.3 384.1 693.1 385.0 700.0 385.1 700.7 386.1 711.0 387.1 721.8 388.0 726.1 388.1 726.0 389.1 721.5 390.0 716.0 390.1 715.6 391.1 710.7 392.1 707.6 392.3 707.5 393.1 709.4 394.1 714.9 395.0 720.0 395.1 720.5 396.1 726.3 397.1 732.1 398.1 735.0 398.2 735.0 399.1 732.8 400.0 730.0 400.1 729.9 401.1 728.7 401.7 728.5 402.1 728.7 403.1 730.3 403.5 731.0 404.1 732.2 405.1 734.5 405.7 735.0 406.1 733.7 407.1 722.4 408.0 710.0 408.1 708.8 409.1 695.3 410.0 685.0 410.1 684.2 411.1 676.7 411.4 676.1 412.1 678.6 413.0 685.0 413.1 685.7 414.1 695.7 415.1 707.5 416.1 715.9 416.6 717.2 417.1 716.4 418.1 710.9 419.1 703.0 419.5 700.0 420.1 694.6 421.1 684.6 421.5 682.0 422.1 679.2 423.0 676.9 423.1 676.9 424.1 680.0 425.0 685.0 425.1 685.6 426.1 695.2 427.0 705.0 427.1 706.0 428.1 716.2 429.1 724.7 429.2 725.3 430.1 730.0 431.1 733.8 431.5 735.0 432.1 736.5 433.1 738.7 434.0 739.8 434.1 739.9 435.1 740.6 436.1 741.2 437.1 741.7 438.1 742.1 439.1 742.4 440.1 742.7 441.1 742.8 442.1 742.9 458.5 742.9 Z" fill="#999d9c" stroke="#000" stroke-width="2" stroke-linejoin="round"/>
<path d="M302.6 743.9h4M302.6 711.9h4M302.6 679.9h4M302.6 647.9h4M302.6 615.9h4M326.8 743.4v5.0M372.1 743.4v5.0M409.6 743.4v5.0M444.2 743.4v5.0" stroke="#000" stroke-width="1.4" fill="none"/>
<path d="M305.1 733.2h1.5M305.1 722.6h1.5M305.1 711.9h1.5M305.1 701.2h1.5M305.1 690.6h1.5M305.1 679.9h1.5M305.1 669.2h1.5M305.1 658.6h1.5M305.1 647.9h1.5M305.1 637.2h1.5M305.1 626.6h1.5M305.1 615.9h1.5M305.1 605.2h1.5M305.1 594.6h1.5M315.3 743.4v3.0M319.1 743.4v3.0M321.4 743.4v3.0M323.7 743.4v3.0M332.2 743.4v3.0M336.8 743.4v3.0M342.1 743.4v3.0M352.1 743.4v3.0M359.0 743.4v3.0M363.6 743.4v3.0M367.5 743.4v3.0M385.9 743.4v3.0M393.5 743.4v3.0M398.1 743.4v3.0M402.0 743.4v3.0M405.0 743.4v3.0M407.3 743.4v3.0M421.9 743.4v3.0M428.8 743.4v3.0M433.4 743.4v3.0M437.3 743.4v3.0M440.3 743.4v3.0M442.6 743.4v3.0M453.4 743.4v3.0" stroke="#000" stroke-width="1.2" fill="none"/>
<rect x="307.1" y="592.1" width="151.4" height="150.8" fill="none" stroke="#000" stroke-width="2"/>
<text x="382.8" y="580.3" font-size="32.5" text-anchor="middle">SRPrg</text>
<line x1="317.8" y1="648.6" x2="399" y2="648.6" stroke="#000" stroke-width="2"/>
<line x1="317.8" y1="642.1" x2="317.8" y2="655.1" stroke="#000" stroke-width="2.4"/>
<line x1="399" y1="642.1" x2="399" y2="655.1" stroke="#000" stroke-width="2.4"/>
<text transform="translate(374.6,641.7) scale(1.12,1)" font-size="23.5" text-anchor="middle">79</text>
<path d="M484.7 742.9 484.7 742.9 501.7 742.9 502.7 742.8 503.7 742.7 504.7 742.6 505.0 742.5 505.7 741.6 506.7 738.4 507.5 735.0 507.7 734.1 508.7 727.7 509.7 719.1 509.9 717.2 510.7 708.1 511.7 694.3 512.0 690.0 512.7 679.5 513.7 663.7 513.9 660.7 514.7 647.6 515.7 632.9 516.0 630.0 516.7 624.7 517.7 619.0 518.3 617.9 518.7 618.4 519.7 623.1 520.5 628.0 520.7 629.1 521.7 635.7 522.7 643.7 522.8 644.6 523.7 656.9 524.7 671.1 525.2 673.6 525.7 673.5 526.7 673.1 527.6 672.8 527.7 672.8 528.7 676.7 529.7 683.3 530.0 685.0 530.7 689.1 531.7 696.0 532.7 702.6 533.7 707.5 534.6 709.2 534.7 709.1 535.7 703.0 536.5 697.0 536.7 696.0 537.7 691.1 538.6 689.0 538.7 689.0 539.7 693.3 540.7 700.8 541.0 703.0 541.7 709.3 542.7 720.0 543.7 726.0 543.8 726.1 544.7 721.7 545.7 711.6 546.5 705.0 546.7 703.9 547.7 698.6 548.7 695.0 549.1 694.6 549.7 695.6 550.7 700.3 551.5 705.0 551.7 706.3 552.7 716.1 553.7 725.6 554.3 727.7 554.7 726.9 555.7 720.5 556.5 715.0 556.7 713.9 557.7 707.7 558.7 703.2 559.1 702.7 559.7 703.6 560.7 707.9 561.5 712.0 561.7 713.1 562.7 721.0 563.7 729.6 564.7 734.2 564.8 734.2 565.7 730.6 566.7 723.4 567.0 722.0 567.7 719.3 568.7 716.2 569.3 715.6 569.7 716.2 570.7 720.8 571.5 725.0 571.7 725.9 572.7 731.2 573.7 735.9 574.5 737.4 574.7 737.3 575.7 734.5 576.7 730.7 577.0 730.0 577.7 728.7 578.7 727.2 579.3 726.9 579.7 727.1 580.7 728.9 581.7 730.1 581.7 730.1 582.7 722.2 583.7 705.3 584.0 700.0 584.7 683.5 585.7 655.2 586.2 645.0 586.7 637.5 587.7 625.5 588.2 623.6 588.7 626.8 589.7 644.3 590.0 650.0 590.7 667.8 591.7 698.0 592.5 709.2 592.7 709.0 593.7 704.0 594.7 696.7 595.0 695.0 595.7 691.2 596.7 685.7 597.7 682.6 597.9 682.5 598.7 685.1 599.7 692.6 600.0 695.0 600.7 702.0 601.7 715.4 602.7 727.8 603.5 733.4 603.7 734.0 604.7 736.7 605.7 738.6 606.7 739.8 607.0 740.0 607.7 740.5 608.7 741.1 609.7 741.6 610.7 742.0 611.7 742.4 612.7 742.7 613.7 742.8 614.7 742.9 635.6 742.9 Z" fill="#999d9c" stroke="#000" stroke-width="2" stroke-linejoin="round"/>
<path d="M480.2 743.9h4M480.2 711.9h4M480.2 679.9h4M480.2 647.9h4M480.2 615.9h4M504.3 743.4v5.0M549.4 743.4v5.0M586.9 743.4v5.0M621.3 743.4v5.0" stroke="#000" stroke-width="1.4" fill="none"/>
<path d="M482.7 733.2h1.5M482.7 722.6h1.5M482.7 711.9h1.5M482.7 701.2h1.5M482.7 690.6h1.5M482.7 679.9h1.5M482.7 669.2h1.5M482.7 658.6h1.5M482.7 647.9h1.5M482.7 637.2h1.5M482.7 626.6h1.5M482.7 615.9h1.5M482.7 605.2h1.5M482.7 594.6h1.5M492.9 743.4v3.0M496.7 743.4v3.0M499.0 743.4v3.0M501.3 743.4v3.0M509.7 743.4v3.0M514.3 743.4v3.0M519.6 743.4v3.0M529.6 743.4v3.0M536.5 743.4v3.0M541.0 743.4v3.0M544.9 743.4v3.0M563.2 743.4v3.0M570.9 743.4v3.0M575.4 743.4v3.0M579.3 743.4v3.0M582.3 743.4v3.0M584.6 743.4v3.0M599.1 743.4v3.0M606.0 743.4v3.0M610.6 743.4v3.0M614.4 743.4v3.0M617.5 743.4v3.0M619.8 743.4v3.0M630.5 743.4v3.0" stroke="#000" stroke-width="1.2" fill="none"/>
<rect x="484.7" y="592.3" width="150.9" height="150.6" fill="none" stroke="#000" stroke-width="2"/>
<text x="560.15" y="580.5" font-size="32.5" text-anchor="middle">SASrg</text>
<line x1="492.1" y1="648.6" x2="573.2" y2="648.6" stroke="#000" stroke-width="2"/>
<line x1="492.1" y1="642.1" x2="492.1" y2="655.1" stroke="#000" stroke-width="2.4"/>
<line x1="573.2" y1="642.1" x2="573.2" y2="655.1" stroke="#000" stroke-width="2.4"/>
<text transform="translate(548.6,641.7) scale(1.12,1)" font-size="23.5" text-anchor="middle">72</text>
<path d="M662.7 742.6 662.7 742.6 672.7 742.6 673.7 742.5 674.5 742.5 674.7 742.5 675.7 742.1 676.7 741.3 677.7 740.3 678.0 740.0 678.7 739.3 679.7 738.0 680.7 736.3 681.6 734.3 681.7 734.0 682.7 729.3 683.7 722.3 684.0 720.0 684.7 713.9 685.7 703.1 686.2 696.9 686.7 689.8 687.7 672.9 688.5 660.0 688.7 657.2 689.7 643.4 690.7 631.3 690.9 629.1 691.7 620.4 692.7 611.5 693.0 610.0 693.7 607.5 694.7 604.9 695.6 604.0 695.7 604.1 696.7 609.6 697.0 612.0 697.7 620.5 698.5 632.6 698.7 635.3 699.7 648.8 700.7 661.5 701.0 665.0 701.7 673.3 702.7 684.0 703.2 687.5 703.7 689.8 704.7 693.1 705.5 695.7 705.7 696.5 706.7 700.6 707.7 704.8 708.5 708.0 708.7 708.8 709.7 713.0 710.7 717.1 711.7 719.5 711.9 719.7 712.7 720.1 713.7 720.3 714.7 720.7 714.9 720.8 715.7 722.8 716.7 726.9 717.0 728.0 717.7 730.6 718.7 734.2 719.5 735.4 719.7 735.4 720.7 734.8 721.7 734.1 722.0 734.0 722.7 733.9 723.7 733.7 724.2 733.7 724.7 733.9 725.7 735.1 726.7 736.6 727.0 737.0 727.7 737.8 728.7 738.9 729.7 739.9 730.7 740.8 731.7 741.3 731.8 741.3 732.7 741.5 733.7 741.8 734.7 742.0 735.7 742.1 736.7 742.3 737.7 742.4 738.7 742.5 739.7 742.6 760.7 742.6 761.7 742.5 762.7 742.4 763.7 742.2 764.7 742.0 765.7 741.8 766.7 741.6 767.0 741.5 767.7 741.3 768.7 740.8 769.7 740.3 770.7 739.8 771.7 739.5 772.1 739.5 772.7 739.5 773.7 739.8 774.7 740.2 775.7 740.6 776.7 741.1 777.7 741.4 778.0 741.5 778.7 741.7 779.7 741.9 780.7 742.1 781.7 742.3 782.7 742.5 783.7 742.6 814.4 742.6 Z" fill="#999d9c" stroke="#000" stroke-width="2" stroke-linejoin="round"/>
<path d="M658.2 743.6h4M658.2 711.6h4M658.2 679.6h4M658.2 647.6h4M658.2 615.6h4M682.4 743.1v5.0M727.8 743.1v5.0M765.4 743.1v5.0M800.0 743.1v5.0" stroke="#000" stroke-width="1.4" fill="none"/>
<path d="M660.7 732.9h1.5M660.7 722.3h1.5M660.7 711.6h1.5M660.7 700.9h1.5M660.7 690.3h1.5M660.7 679.6h1.5M660.7 668.9h1.5M660.7 658.3h1.5M660.7 647.6h1.5M660.7 636.9h1.5M660.7 626.3h1.5M660.7 615.6h1.5M660.7 604.9h1.5M660.7 594.3h1.5M670.9 743.1v3.0M674.8 743.1v3.0M677.1 743.1v3.0M679.4 743.1v3.0M687.8 743.1v3.0M692.4 743.1v3.0M697.8 743.1v3.0M707.8 743.1v3.0M714.7 743.1v3.0M719.3 743.1v3.0M723.2 743.1v3.0M741.6 743.1v3.0M749.3 743.1v3.0M753.9 743.1v3.0M757.8 743.1v3.0M760.8 743.1v3.0M763.1 743.1v3.0M777.7 743.1v3.0M784.7 743.1v3.0M789.3 743.1v3.0M793.1 743.1v3.0M796.2 743.1v3.0M798.5 743.1v3.0M809.3 743.1v3.0" stroke="#000" stroke-width="1.2" fill="none"/>
<rect x="662.7" y="592.1" width="151.7" height="150.5" fill="none" stroke="#000" stroke-width="2"/>
<text x="738.55" y="580.3" font-size="32.5" text-anchor="middle">GTGrg</text>
<line x1="670.1" y1="648.1" x2="751.1" y2="648.1" stroke="#000" stroke-width="2"/>
<line x1="670.1" y1="641.6" x2="670.1" y2="654.6" stroke="#000" stroke-width="2.4"/>
<line x1="751.1" y1="641.6" x2="751.1" y2="654.6" stroke="#000" stroke-width="2.4"/>
<text transform="translate(726.6,641.4) scale(1.12,1)" font-size="23.5" text-anchor="middle">98</text>
<text x="-1.5" y="250.5" font-size="31.5">Group 1</text>
<text x="-1.5" y="463.9" font-size="31.5">Group 2</text>
<text x="-1.5" y="679.8" font-size="31.5">Group 3</text>
<text x="148.8" y="764.4" font-size="14.5" text-anchor="middle">0</text>
<text x="183.3" y="764.4" font-size="14.5">10<tspan font-size="10" dy="-6">3</tspan></text>
<text x="217.8" y="764.4" font-size="14.5">10<tspan font-size="10" dy="-6">4</tspan></text>
<text x="253.4" y="764.4" font-size="14.5">10<tspan font-size="10" dy="-6">5</tspan></text>
<text x="121.5" y="792.4" font-size="32">CTV</text>
<line x1="197.9" y1="780.7" x2="1147.3" y2="780.7" stroke="#000" stroke-width="2.1"/>
<path d="M1165.3,780.7 L1142,771 L1146.5,780.7 L1142,790.3 Z" fill="#000"/>
<text x="649" y="816.7" font-size="32.4" text-anchor="middle">(gated on TCR&#946;<tspan font-size="17" dy="-12">+</tspan><tspan dy="12">CD4</tspan><tspan font-size="17" dy="-12">+</tspan><tspan dy="12">Thy1.1</tspan><tspan font-size="17" dy="-12">+</tspan><tspan dy="12">)</tspan></text>
<text x="1224.5" y="22" font-size="40" font-weight="bold">c</text>
<rect x="1341" y="4.3" width="18.3" height="18.4" fill="#229bb5" stroke="#000" stroke-width="2.4"/>
<text x="1373" y="24.4" font-size="32">Control</text>
<rect x="1521.3" y="4.3" width="18.3" height="18.4" fill="#868686" stroke="#000" stroke-width="2.4"/>
<text x="1551" y="24.4" font-size="32">Group 1</text>
<text x="1418.8" y="149.7" font-size="32" text-anchor="middle">No DC</text>
<text x="1587.1" y="149.7" font-size="32" text-anchor="middle">DC</text>
<text x="1750.2" y="97" font-size="27" text-anchor="middle">DC +</text>
<text x="1750.2" y="124.3" font-size="27" text-anchor="middle"><tspan font-style="italic">Foxp3</tspan><tspan font-size="17" dy="-9" font-style="italic">WT</tspan></text>
<text x="1750.2" y="151.5" font-size="27" text-anchor="middle">PR</text>
<text x="1921.7" y="97" font-size="27" text-anchor="middle">DC +</text>
<text x="1921.7" y="124.3" font-size="27" text-anchor="middle"><tspan font-style="italic">Foxp3</tspan><tspan font-size="17" dy="-9" font-style="italic">DTR</tspan></text>
<text x="1921.7" y="151.5" font-size="27" text-anchor="middle">PR</text>
<text x="2083.5" y="124.5" font-size="26.2" text-anchor="middle">&#945;CD3&#949;/&#945;CD28</text>
<text x="2083.9" y="149.6" font-size="26.2" text-anchor="middle">beads</text>
<path d="M1340.2 317 1340.2 317.0 1430.2 317.0 1431.2 316.9 1432.2 316.8 1433.2 316.7 1434.2 316.3 1435.2 315.6 1436.2 314.4 1437.2 312.2 1438.2 308.7 1439.2 303.2 1440.2 295.2 1441.2 284.1 1442.2 269.7 1443.2 252.5 1444.2 233.7 1445.2 215.3 1446.2 200.3 1447.2 192.2 1448.2 196.1 1449.2 209.6 1450.2 228.0 1451.2 247.6 1452.2 266.0 1453.2 281.4 1454.2 293.4 1455.2 302.0 1456.2 307.8 1457.2 311.5 1458.2 313.8 1459.2 315.1 1460.2 315.8 1461.2 316.3 1462.2 316.5 1463.2 316.7 1464.2 316.8 1465.2 316.8 1466.2 316.9 1467.2 316.9 1468.2 316.9 1469.2 317.0 1494.2 317.0 Z" fill="#999d9c" stroke="#000" stroke-width="2" stroke-linejoin="round"/>
<path d="M1335.7 318.0h4M1335.7 288.5h4M1335.7 259.0h4M1335.7 229.5h4M1335.7 200.0h4M1335.7 170.5h4M1360.3 317.5v5.0M1406.3 317.5v5.0M1444.6 317.5v5.0M1479.7 317.5v5.0" stroke="#000" stroke-width="1.4" fill="none"/>
<path d="M1338.2 308.2h1.5M1338.2 298.3h1.5M1338.2 288.5h1.5M1338.2 278.7h1.5M1338.2 268.8h1.5M1338.2 259.0h1.5M1338.2 249.2h1.5M1338.2 239.3h1.5M1338.2 229.5h1.5M1338.2 219.7h1.5M1338.2 209.8h1.5M1338.2 200.0h1.5M1338.2 190.2h1.5M1338.2 180.3h1.5M1338.2 170.5h1.5M1348.6 317.5v3.0M1352.5 317.5v3.0M1354.8 317.5v3.0M1357.2 317.5v3.0M1365.7 317.5v3.0M1370.4 317.5v3.0M1375.9 317.5v3.0M1386.0 317.5v3.0M1393.1 317.5v3.0M1397.7 317.5v3.0M1401.6 317.5v3.0M1420.4 317.5v3.0M1428.2 317.5v3.0M1432.9 317.5v3.0M1436.8 317.5v3.0M1439.9 317.5v3.0M1442.2 317.5v3.0M1457.1 317.5v3.0M1464.1 317.5v3.0M1468.8 317.5v3.0M1472.7 317.5v3.0M1475.8 317.5v3.0M1478.1 317.5v3.0M1489.1 317.5v3.0" stroke="#000" stroke-width="1.2" fill="none"/>
<rect x="1340.2" y="162.7" width="154.1" height="154.3" fill="none" stroke="#000" stroke-width="2"/>
<line x1="1347.8" y1="252.9" x2="1425.6" y2="252.9" stroke="#000" stroke-width="2"/>
<line x1="1347.8" y1="246.4" x2="1347.8" y2="259.4" stroke="#000" stroke-width="2.4"/>
<line x1="1425.6" y1="246.4" x2="1425.6" y2="259.4" stroke="#000" stroke-width="2.4"/>
<text transform="translate(1388.4,244.4) scale(1.07,1)" font-size="23.5" text-anchor="middle">0.6</text>
<path d="M1507.5 317 1507.5 317.0 1595.5 317.0 1596.5 316.9 1597.5 316.9 1598.5 316.7 1599.5 316.5 1600.5 316.0 1601.5 315.2 1602.5 313.8 1603.5 311.5 1604.5 308.1 1605.5 302.9 1606.5 295.7 1607.5 285.9 1608.5 273.5 1609.5 258.6 1610.5 241.9 1611.5 224.8 1612.5 209.1 1613.5 197.2 1614.5 192.1 1615.5 197.6 1616.5 210.3 1617.5 226.9 1618.5 244.8 1619.5 261.9 1620.5 276.9 1621.5 289.0 1622.5 298.3 1623.5 304.9 1624.5 309.5 1625.5 312.5 1626.5 314.3 1627.5 315.4 1628.5 316.1 1629.5 316.5 1630.5 316.7 1631.5 316.8 1632.5 316.9 1633.5 316.9 1634.5 316.9 1635.5 317.0 1661.5 317.0 Z" fill="#999d9c" stroke="#000" stroke-width="2" stroke-linejoin="round"/>
<path d="M1503.0 318.0h4M1503.0 288.5h4M1503.0 259.0h4M1503.0 229.5h4M1503.0 200.0h4M1503.0 170.5h4M1527.6 317.5v5.0M1573.7 317.5v5.0M1612.0 317.5v5.0M1647.2 317.5v5.0" stroke="#000" stroke-width="1.4" fill="none"/>
<path d="M1505.5 308.2h1.5M1505.5 298.3h1.5M1505.5 288.5h1.5M1505.5 278.7h1.5M1505.5 268.8h1.5M1505.5 259.0h1.5M1505.5 249.2h1.5M1505.5 239.3h1.5M1505.5 229.5h1.5M1505.5 219.7h1.5M1505.5 209.8h1.5M1505.5 200.0h1.5M1505.5 190.2h1.5M1505.5 180.3h1.5M1505.5 170.5h1.5M1515.9 317.5v3.0M1519.8 317.5v3.0M1522.1 317.5v3.0M1524.5 317.5v3.0M1533.1 317.5v3.0M1537.8 317.5v3.0M1543.2 317.5v3.0M1553.4 317.5v3.0M1560.4 317.5v3.0M1565.1 317.5v3.0M1569.0 317.5v3.0M1587.8 317.5v3.0M1595.6 317.5v3.0M1600.3 317.5v3.0M1604.2 317.5v3.0M1607.3 317.5v3.0M1609.7 317.5v3.0M1624.5 317.5v3.0M1631.5 317.5v3.0M1636.2 317.5v3.0M1640.1 317.5v3.0M1643.3 317.5v3.0M1645.6 317.5v3.0M1656.5 317.5v3.0" stroke="#000" stroke-width="1.2" fill="none"/>
<rect x="1507.5" y="162.7" width="154.3" height="154.3" fill="none" stroke="#000" stroke-width="2"/>
<line x1="1515.1" y1="252.9" x2="1592.9" y2="252.9" stroke="#000" stroke-width="2"/>
<line x1="1515.1" y1="246.4" x2="1515.1" y2="259.4" stroke="#000" stroke-width="2.4"/>
<line x1="1592.9" y1="246.4" x2="1592.9" y2="259.4" stroke="#000" stroke-width="2.4"/>
<text transform="translate(1554.7,244.4) scale(1.07,1)" font-size="23.5" text-anchor="middle">0.5</text>
<path d="M1675.3 317 1675.3 317.0 1767.3 317.0 1768.3 316.9 1769.3 316.7 1770.3 316.1 1771.3 314.8 1772.3 312.1 1773.3 307.1 1774.3 299.1 1775.3 287.4 1776.3 272.5 1777.3 255.7 1778.3 239.3 1779.3 225.9 1780.3 217.3 1781.3 214.0 1782.3 214.9 1783.3 221.3 1784.3 233.9 1785.3 251.0 1786.3 269.4 1787.3 286.0 1788.3 298.8 1789.3 307.4 1790.3 312.3 1791.3 314.9 1792.3 316.0 1793.3 316.5 1794.3 316.7 1795.3 316.8 1796.3 316.8 1797.3 316.9 1798.3 316.9 1799.3 316.9 1800.3 317.0 1829.3 317.0 Z" fill="#999d9c" stroke="#000" stroke-width="2" stroke-linejoin="round"/>
<path d="M1670.8 318.0h4M1670.8 288.5h4M1670.8 259.0h4M1670.8 229.5h4M1670.8 200.0h4M1670.8 170.5h4M1695.4 317.5v5.0M1741.6 317.5v5.0M1780.0 317.5v5.0M1815.2 317.5v5.0" stroke="#000" stroke-width="1.4" fill="none"/>
<path d="M1673.3 308.2h1.5M1673.3 298.3h1.5M1673.3 288.5h1.5M1673.3 278.7h1.5M1673.3 268.8h1.5M1673.3 259.0h1.5M1673.3 249.2h1.5M1673.3 239.3h1.5M1673.3 229.5h1.5M1673.3 219.7h1.5M1673.3 209.8h1.5M1673.3 200.0h1.5M1673.3 190.2h1.5M1673.3 180.3h1.5M1673.3 170.5h1.5M1683.7 317.5v3.0M1687.6 317.5v3.0M1690.0 317.5v3.0M1692.3 317.5v3.0M1700.9 317.5v3.0M1705.6 317.5v3.0M1711.1 317.5v3.0M1721.3 317.5v3.0M1728.3 317.5v3.0M1733.0 317.5v3.0M1736.9 317.5v3.0M1755.7 317.5v3.0M1763.6 317.5v3.0M1768.3 317.5v3.0M1772.2 317.5v3.0M1775.3 317.5v3.0M1777.7 317.5v3.0M1792.5 317.5v3.0M1799.6 317.5v3.0M1804.3 317.5v3.0M1808.2 317.5v3.0M1811.3 317.5v3.0M1813.7 317.5v3.0M1824.6 317.5v3.0" stroke="#000" stroke-width="1.2" fill="none"/>
<rect x="1675.3" y="162.7" width="154.6" height="154.3" fill="none" stroke="#000" stroke-width="2"/>
<line x1="1682.9" y1="252.9" x2="1760.7" y2="252.9" stroke="#000" stroke-width="2"/>
<line x1="1682.9" y1="246.4" x2="1682.9" y2="259.4" stroke="#000" stroke-width="2.4"/>
<line x1="1760.7" y1="246.4" x2="1760.7" y2="259.4" stroke="#000" stroke-width="2.4"/>
<text transform="translate(1721.8,244.4) scale(1.07,1)" font-size="23.5" text-anchor="middle">0.6</text>
<path d="M1843.1 317 1843.1 317.0 1930.1 317.0 1931.1 316.9 1932.1 316.9 1933.1 316.8 1934.1 316.6 1935.1 316.3 1936.1 315.7 1937.1 314.8 1938.1 313.4 1939.1 311.2 1940.1 307.9 1941.1 303.2 1942.1 296.5 1943.1 287.7 1944.1 276.4 1945.1 262.6 1946.1 246.7 1947.1 229.6 1948.1 212.9 1949.1 198.6 1950.1 189.7 1951.1 192.5 1952.1 204.7 1953.1 221.1 1954.1 238.9 1955.1 256.1 1956.1 271.4 1957.1 284.0 1958.1 294.0 1959.1 301.5 1960.1 306.9 1961.1 310.6 1962.1 313.0 1963.1 314.6 1964.1 315.6 1965.1 316.2 1966.1 316.5 1967.1 316.7 1968.1 316.9 1969.1 316.9 1970.1 317.0 1997.1 317.0 Z" fill="#999d9c" stroke="#000" stroke-width="2" stroke-linejoin="round"/>
<path d="M1838.6 318.0h4M1838.6 288.5h4M1838.6 259.0h4M1838.6 229.5h4M1838.6 200.0h4M1838.6 170.5h4M1863.2 317.5v5.0M1909.3 317.5v5.0M1947.6 317.5v5.0M1982.8 317.5v5.0" stroke="#000" stroke-width="1.4" fill="none"/>
<path d="M1841.1 308.2h1.5M1841.1 298.3h1.5M1841.1 288.5h1.5M1841.1 278.7h1.5M1841.1 268.8h1.5M1841.1 259.0h1.5M1841.1 249.2h1.5M1841.1 239.3h1.5M1841.1 229.5h1.5M1841.1 219.7h1.5M1841.1 209.8h1.5M1841.1 200.0h1.5M1841.1 190.2h1.5M1841.1 180.3h1.5M1841.1 170.5h1.5M1851.5 317.5v3.0M1855.4 317.5v3.0M1857.7 317.5v3.0M1860.1 317.5v3.0M1868.7 317.5v3.0M1873.4 317.5v3.0M1878.8 317.5v3.0M1889.0 317.5v3.0M1896.0 317.5v3.0M1900.7 317.5v3.0M1904.6 317.5v3.0M1923.4 317.5v3.0M1931.2 317.5v3.0M1935.9 317.5v3.0M1939.8 317.5v3.0M1942.9 317.5v3.0M1945.3 317.5v3.0M1960.1 317.5v3.0M1967.1 317.5v3.0M1971.8 317.5v3.0M1975.7 317.5v3.0M1978.9 317.5v3.0M1981.2 317.5v3.0M1992.1 317.5v3.0" stroke="#000" stroke-width="1.2" fill="none"/>
<rect x="1843.1" y="162.7" width="154.3" height="154.3" fill="none" stroke="#000" stroke-width="2"/>
<line x1="1850.7" y1="252.9" x2="1928.5" y2="252.9" stroke="#000" stroke-width="2"/>
<line x1="1850.7" y1="246.4" x2="1850.7" y2="259.4" stroke="#000" stroke-width="2.4"/>
<line x1="1928.5" y1="246.4" x2="1928.5" y2="259.4" stroke="#000" stroke-width="2.4"/>
<text transform="translate(1889.4,244.4) scale(1.07,1)" font-size="23.5" text-anchor="middle">0.6</text>
<path d="M2010.5 317 2010.5 317.0 2047.5 317.0 2048.5 316.9 2049.5 316.9 2050.5 316.9 2051.5 316.9 2052.5 316.9 2053.5 316.8 2054.5 316.8 2054.9 316.8 2055.5 316.7 2056.5 316.4 2057.5 315.9 2058.5 315.3 2059.0 315.0 2059.5 314.6 2060.5 313.7 2061.5 312.6 2062.5 311.2 2063.1 310.2 2063.5 309.4 2064.5 306.2 2065.5 302.2 2066.5 298.3 2067.5 295.5 2067.8 295.0 2068.5 294.1 2069.5 292.8 2070.5 291.8 2071.5 291.1 2072.5 290.9 2072.5 290.9 2073.5 291.3 2074.5 292.5 2075.5 293.9 2076.5 295.3 2077.2 296.1 2077.5 296.4 2078.5 297.5 2079.5 298.5 2080.5 299.1 2080.7 299.1 2081.5 299.1 2082.5 299.1 2083.0 299.1 2083.5 299.3 2084.5 300.6 2085.5 301.8 2085.9 302.0 2086.5 301.8 2087.5 300.8 2088.5 299.1 2089.5 297.2 2090.5 295.2 2090.6 295.0 2091.5 293.0 2092.5 290.2 2093.5 287.3 2094.5 284.8 2095.3 283.3 2095.5 283.0 2096.5 282.0 2097.5 281.0 2097.6 280.9 2098.5 279.0 2099.5 276.6 2100.3 275.7 2100.5 275.8 2101.5 277.8 2102.5 281.0 2102.9 282.1 2103.5 283.8 2104.5 286.8 2105.5 288.5 2105.6 288.5 2106.5 287.2 2107.5 283.5 2108.5 278.3 2109.3 273.9 2109.5 272.7 2110.5 265.3 2111.5 256.0 2112.5 246.3 2112.8 243.5 2113.5 236.0 2114.5 223.4 2115.5 212.2 2116.5 206.3 2116.7 206.1 2117.5 207.2 2118.5 211.0 2119.5 216.6 2120.4 222.5 2120.5 223.2 2121.5 234.9 2122.5 251.3 2123.5 267.5 2124.5 278.6 2124.5 278.6 2125.5 284.8 2126.5 289.9 2127.5 294.1 2128.5 297.7 2129.5 301.0 2129.8 302.0 2130.5 304.3 2131.5 307.4 2132.5 310.2 2133.5 312.4 2134.4 313.7 2134.5 313.8 2135.5 314.7 2136.5 315.5 2137.5 316.1 2138.5 316.6 2139.5 316.9 2140.3 317.0 2165.0 317.0 Z" fill="#999d9c" stroke="#000" stroke-width="2" stroke-linejoin="round"/>
<path d="M2006.0 318.0h4M2006.0 288.5h4M2006.0 259.0h4M2006.0 229.5h4M2006.0 200.0h4M2006.0 170.5h4M2030.6 317.5v5.0M2076.8 317.5v5.0M2115.1 317.5v5.0M2150.3 317.5v5.0" stroke="#000" stroke-width="1.4" fill="none"/>
<path d="M2008.5 308.2h1.5M2008.5 298.3h1.5M2008.5 288.5h1.5M2008.5 278.7h1.5M2008.5 268.8h1.5M2008.5 259.0h1.5M2008.5 249.2h1.5M2008.5 239.3h1.5M2008.5 229.5h1.5M2008.5 219.7h1.5M2008.5 209.8h1.5M2008.5 200.0h1.5M2008.5 190.2h1.5M2008.5 180.3h1.5M2008.5 170.5h1.5M2018.9 317.5v3.0M2022.8 317.5v3.0M2025.2 317.5v3.0M2027.5 317.5v3.0M2036.1 317.5v3.0M2040.8 317.5v3.0M2046.3 317.5v3.0M2056.4 317.5v3.0M2063.5 317.5v3.0M2068.2 317.5v3.0M2072.1 317.5v3.0M2090.9 317.5v3.0M2098.7 317.5v3.0M2103.4 317.5v3.0M2107.3 317.5v3.0M2110.4 317.5v3.0M2112.8 317.5v3.0M2127.7 317.5v3.0M2134.7 317.5v3.0M2139.4 317.5v3.0M2143.3 317.5v3.0M2146.4 317.5v3.0M2148.8 317.5v3.0M2159.7 317.5v3.0" stroke="#000" stroke-width="1.2" fill="none"/>
<rect x="2010.5" y="162.7" width="154.5" height="154.3" fill="none" stroke="#000" stroke-width="2"/>
<line x1="2018.1" y1="252.9" x2="2095.9" y2="252.9" stroke="#000" stroke-width="2"/>
<line x1="2018.1" y1="246.4" x2="2018.1" y2="259.4" stroke="#000" stroke-width="2.4"/>
<line x1="2095.9" y1="246.4" x2="2095.9" y2="259.4" stroke="#000" stroke-width="2.4"/>
<text transform="translate(2052.6,244.4) scale(1.07,1)" font-size="23.5" text-anchor="middle">45</text>
<text x="1321.2" y="254.2" font-size="32.6" text-anchor="end">APRrg</text>
<path d="M1340.2 485.5 1340.2 485.5 1429.2 485.5 1430.2 485.4 1431.2 485.3 1432.2 485.1 1433.2 484.8 1434.2 484.2 1435.2 483.2 1436.2 481.5 1437.2 478.6 1438.2 474.2 1439.2 467.5 1440.2 457.8 1441.2 444.6 1442.2 427.5 1443.2 406.8 1444.2 383.8 1445.2 361.6 1446.2 345.1 1447.2 348.8 1448.2 371.0 1449.2 397.5 1450.2 422.3 1451.2 442.8 1452.2 458.2 1453.2 468.9 1454.2 475.8 1455.2 480.1 1456.2 482.5 1457.2 483.9 1458.2 484.7 1459.2 485.1 1460.2 485.3 1461.2 485.4 1462.2 485.4 1463.2 485.5 1494.2 485.5 Z" fill="#999d9c" stroke="#000" stroke-width="2" stroke-linejoin="round"/>
<path d="M1335.7 486.5h4M1335.7 457.0h4M1335.7 427.5h4M1335.7 398.0h4M1335.7 368.5h4M1360.3 486.0v5.0M1406.3 486.0v5.0M1444.6 486.0v5.0M1479.7 486.0v5.0" stroke="#000" stroke-width="1.4" fill="none"/>
<path d="M1338.2 476.7h1.5M1338.2 466.8h1.5M1338.2 457.0h1.5M1338.2 447.2h1.5M1338.2 437.3h1.5M1338.2 427.5h1.5M1338.2 417.7h1.5M1338.2 407.8h1.5M1338.2 398.0h1.5M1338.2 388.2h1.5M1338.2 378.3h1.5M1338.2 368.5h1.5M1338.2 358.7h1.5M1338.2 348.8h1.5M1338.2 339.0h1.5M1348.6 486.0v3.0M1352.5 486.0v3.0M1354.8 486.0v3.0M1357.2 486.0v3.0M1365.7 486.0v3.0M1370.4 486.0v3.0M1375.9 486.0v3.0M1386.0 486.0v3.0M1393.1 486.0v3.0M1397.7 486.0v3.0M1401.6 486.0v3.0M1420.4 486.0v3.0M1428.2 486.0v3.0M1432.9 486.0v3.0M1436.8 486.0v3.0M1439.9 486.0v3.0M1442.2 486.0v3.0M1457.1 486.0v3.0M1464.1 486.0v3.0M1468.8 486.0v3.0M1472.7 486.0v3.0M1475.8 486.0v3.0M1478.1 486.0v3.0M1489.1 486.0v3.0" stroke="#000" stroke-width="1.2" fill="none"/>
<rect x="1340.2" y="332.1" width="154.1" height="153.4" fill="none" stroke="#000" stroke-width="2"/>
<line x1="1347.8" y1="424.6" x2="1425.6" y2="424.6" stroke="#000" stroke-width="2"/>
<line x1="1347.8" y1="418.1" x2="1347.8" y2="431.1" stroke="#000" stroke-width="2.4"/>
<line x1="1425.6" y1="418.1" x2="1425.6" y2="431.1" stroke="#000" stroke-width="2.4"/>
<text transform="translate(1388.4,412.5) scale(1.07,1)" font-size="23.5" text-anchor="middle">0.4</text>
<path d="M1507.5 485.5 1507.5 485.5 1595.5 485.5 1596.5 485.4 1597.5 485.3 1598.5 485.1 1599.5 484.8 1600.5 484.2 1601.5 483.2 1602.5 481.6 1603.5 478.9 1604.5 474.7 1605.5 468.5 1606.5 459.5 1607.5 447.2 1608.5 431.1 1609.5 411.4 1610.5 389.1 1611.5 366.4 1612.5 347.1 1613.5 340.2 1614.5 356.6 1615.5 380.8 1616.5 406.0 1617.5 428.5 1618.5 446.6 1619.5 460.2 1620.5 469.7 1621.5 476.0 1622.5 480.0 1623.5 482.4 1624.5 483.8 1625.5 484.6 1626.5 485.0 1627.5 485.2 1628.5 485.4 1629.5 485.4 1630.5 485.5 1661.5 485.5 Z" fill="#999d9c" stroke="#000" stroke-width="2" stroke-linejoin="round"/>
<path d="M1503.0 486.5h4M1503.0 457.0h4M1503.0 427.5h4M1503.0 398.0h4M1503.0 368.5h4M1527.6 486.0v5.0M1573.7 486.0v5.0M1612.0 486.0v5.0M1647.2 486.0v5.0" stroke="#000" stroke-width="1.4" fill="none"/>
<path d="M1505.5 476.7h1.5M1505.5 466.8h1.5M1505.5 457.0h1.5M1505.5 447.2h1.5M1505.5 437.3h1.5M1505.5 427.5h1.5M1505.5 417.7h1.5M1505.5 407.8h1.5M1505.5 398.0h1.5M1505.5 388.2h1.5M1505.5 378.3h1.5M1505.5 368.5h1.5M1505.5 358.7h1.5M1505.5 348.8h1.5M1505.5 339.0h1.5M1515.9 486.0v3.0M1519.8 486.0v3.0M1522.1 486.0v3.0M1524.5 486.0v3.0M1533.1 486.0v3.0M1537.8 486.0v3.0M1543.2 486.0v3.0M1553.4 486.0v3.0M1560.4 486.0v3.0M1565.1 486.0v3.0M1569.0 486.0v3.0M1587.8 486.0v3.0M1595.6 486.0v3.0M1600.3 486.0v3.0M1604.2 486.0v3.0M1607.3 486.0v3.0M1609.7 486.0v3.0M1624.5 486.0v3.0M1631.5 486.0v3.0M1636.2 486.0v3.0M1640.1 486.0v3.0M1643.3 486.0v3.0M1645.6 486.0v3.0M1656.5 486.0v3.0" stroke="#000" stroke-width="1.2" fill="none"/>
<rect x="1507.5" y="332.1" width="154.3" height="153.4" fill="none" stroke="#000" stroke-width="2"/>
<line x1="1515.1" y1="424.6" x2="1592.9" y2="424.6" stroke="#000" stroke-width="2"/>
<line x1="1515.1" y1="418.1" x2="1515.1" y2="431.1" stroke="#000" stroke-width="2.4"/>
<line x1="1592.9" y1="418.1" x2="1592.9" y2="431.1" stroke="#000" stroke-width="2.4"/>
<text transform="translate(1554.7,412.5) scale(1.07,1)" font-size="23.5" text-anchor="middle">0.4</text>
<path d="M1675.3 485.5 1675.3 485.5 1763.3 485.5 1764.3 485.4 1765.3 485.4 1766.3 485.3 1767.3 485.0 1768.3 484.6 1769.3 483.9 1770.3 482.7 1771.3 480.7 1772.3 477.5 1773.3 472.5 1774.3 465.3 1775.3 455.1 1776.3 441.3 1777.3 423.8 1778.3 402.9 1779.3 380.1 1780.3 358.2 1781.3 342.1 1782.3 345.4 1783.3 366.1 1784.3 391.2 1785.3 415.6 1786.3 436.4 1787.3 452.7 1788.3 464.5 1789.3 472.6 1790.3 477.9 1791.3 481.2 1792.3 483.1 1793.3 484.2 1794.3 484.8 1795.3 485.1 1796.3 485.3 1797.3 485.4 1798.3 485.4 1799.3 485.5 1829.3 485.5 Z" fill="#999d9c" stroke="#000" stroke-width="2" stroke-linejoin="round"/>
<path d="M1670.8 486.5h4M1670.8 457.0h4M1670.8 427.5h4M1670.8 398.0h4M1670.8 368.5h4M1695.4 486.0v5.0M1741.6 486.0v5.0M1780.0 486.0v5.0M1815.2 486.0v5.0" stroke="#000" stroke-width="1.4" fill="none"/>
<path d="M1673.3 476.7h1.5M1673.3 466.8h1.5M1673.3 457.0h1.5M1673.3 447.2h1.5M1673.3 437.3h1.5M1673.3 427.5h1.5M1673.3 417.7h1.5M1673.3 407.8h1.5M1673.3 398.0h1.5M1673.3 388.2h1.5M1673.3 378.3h1.5M1673.3 368.5h1.5M1673.3 358.7h1.5M1673.3 348.8h1.5M1673.3 339.0h1.5M1683.7 486.0v3.0M1687.6 486.0v3.0M1690.0 486.0v3.0M1692.3 486.0v3.0M1700.9 486.0v3.0M1705.6 486.0v3.0M1711.1 486.0v3.0M1721.3 486.0v3.0M1728.3 486.0v3.0M1733.0 486.0v3.0M1736.9 486.0v3.0M1755.7 486.0v3.0M1763.6 486.0v3.0M1768.3 486.0v3.0M1772.2 486.0v3.0M1775.3 486.0v3.0M1777.7 486.0v3.0M1792.5 486.0v3.0M1799.6 486.0v3.0M1804.3 486.0v3.0M1808.2 486.0v3.0M1811.3 486.0v3.0M1813.7 486.0v3.0M1824.6 486.0v3.0" stroke="#000" stroke-width="1.2" fill="none"/>
<rect x="1675.3" y="332.1" width="154.6" height="153.4" fill="none" stroke="#000" stroke-width="2"/>
<line x1="1682.9" y1="424.6" x2="1760.7" y2="424.6" stroke="#000" stroke-width="2"/>
<line x1="1682.9" y1="418.1" x2="1682.9" y2="431.1" stroke="#000" stroke-width="2.4"/>
<line x1="1760.7" y1="418.1" x2="1760.7" y2="431.1" stroke="#000" stroke-width="2.4"/>
<text transform="translate(1721.8,412.5) scale(1.07,1)" font-size="23.5" text-anchor="middle">0.4</text>
<path d="M1843.1 485.5 1843.1 485.5 1931.1 485.5 1932.1 485.4 1933.1 485.3 1934.1 485.2 1935.1 484.9 1936.1 484.5 1937.1 483.6 1938.1 482.2 1939.1 479.9 1940.1 476.3 1941.1 470.9 1942.1 462.9 1943.1 451.8 1944.1 437.2 1945.1 418.9 1946.1 397.6 1947.1 375.0 1948.1 354.6 1949.1 342.0 1950.1 352.8 1951.1 375.2 1952.1 400.1 1953.1 423.3 1954.1 442.5 1955.1 457.1 1956.1 467.6 1957.1 474.6 1958.1 479.2 1959.1 481.9 1960.1 483.5 1961.1 484.5 1962.1 485.0 1963.1 485.2 1964.1 485.4 1965.1 485.4 1966.1 485.5 1997.1 485.5 Z" fill="#999d9c" stroke="#000" stroke-width="2" stroke-linejoin="round"/>
<path d="M1838.6 486.5h4M1838.6 457.0h4M1838.6 427.5h4M1838.6 398.0h4M1838.6 368.5h4M1863.2 486.0v5.0M1909.3 486.0v5.0M1947.6 486.0v5.0M1982.8 486.0v5.0" stroke="#000" stroke-width="1.4" fill="none"/>
<path d="M1841.1 476.7h1.5M1841.1 466.8h1.5M1841.1 457.0h1.5M1841.1 447.2h1.5M1841.1 437.3h1.5M1841.1 427.5h1.5M1841.1 417.7h1.5M1841.1 407.8h1.5M1841.1 398.0h1.5M1841.1 388.2h1.5M1841.1 378.3h1.5M1841.1 368.5h1.5M1841.1 358.7h1.5M1841.1 348.8h1.5M1841.1 339.0h1.5M1851.5 486.0v3.0M1855.4 486.0v3.0M1857.7 486.0v3.0M1860.1 486.0v3.0M1868.7 486.0v3.0M1873.4 486.0v3.0M1878.8 486.0v3.0M1889.0 486.0v3.0M1896.0 486.0v3.0M1900.7 486.0v3.0M1904.6 486.0v3.0M1923.4 486.0v3.0M1931.2 486.0v3.0M1935.9 486.0v3.0M1939.8 486.0v3.0M1942.9 486.0v3.0M1945.3 486.0v3.0M1960.1 486.0v3.0M1967.1 486.0v3.0M1971.8 486.0v3.0M1975.7 486.0v3.0M1978.9 486.0v3.0M1981.2 486.0v3.0M1992.1 486.0v3.0" stroke="#000" stroke-width="1.2" fill="none"/>
<rect x="1843.1" y="332.1" width="154.3" height="153.4" fill="none" stroke="#000" stroke-width="2"/>
<line x1="1850.7" y1="424.6" x2="1928.5" y2="424.6" stroke="#000" stroke-width="2"/>
<line x1="1850.7" y1="418.1" x2="1850.7" y2="431.1" stroke="#000" stroke-width="2.4"/>
<line x1="1928.5" y1="418.1" x2="1928.5" y2="431.1" stroke="#000" stroke-width="2.4"/>
<text transform="translate(1888.9,412.5) scale(1.07,1)" font-size="23.5" text-anchor="middle">0.6</text>
<path d="M2010.5 485.5 2010.5 485.5 2031.5 485.5 2032.5 485.4 2033.5 485.3 2034.5 485.2 2035.5 485.1 2036.2 485.0 2036.5 484.9 2037.5 484.5 2038.5 483.9 2039.5 483.2 2040.5 482.4 2041.0 482.0 2041.5 481.6 2042.5 480.9 2043.5 480.0 2044.5 479.0 2045.5 477.8 2045.5 477.8 2046.5 475.6 2047.5 472.4 2048.5 469.1 2049.5 466.8 2050.2 466.2 2050.5 466.3 2051.5 467.7 2052.5 469.7 2053.5 470.8 2053.6 470.8 2054.5 468.3 2055.5 461.8 2056.5 455.0 2056.5 455.0 2057.5 447.5 2058.5 440.6 2059.0 439.5 2059.5 440.4 2060.5 445.7 2061.5 452.0 2061.5 452.0 2062.5 459.0 2063.5 463.8 2063.6 463.9 2064.5 460.2 2065.5 450.5 2066.5 440.0 2066.5 440.0 2067.5 427.5 2068.5 415.1 2069.2 411.6 2069.5 412.2 2070.5 419.9 2071.5 430.0 2071.5 430.0 2072.5 441.2 2073.5 450.4 2073.8 451.1 2074.5 448.6 2075.5 439.5 2076.5 430.0 2076.5 430.0 2077.5 421.0 2078.5 412.7 2079.2 410.5 2079.5 411.1 2080.5 419.3 2081.5 430.0 2081.5 430.0 2082.5 441.3 2083.5 450.4 2083.8 451.1 2084.5 450.1 2085.5 446.6 2086.5 443.0 2086.5 443.0 2087.5 439.6 2088.5 436.6 2089.1 436.0 2089.5 436.5 2090.5 440.9 2091.5 447.1 2092.0 450.0 2092.5 452.9 2093.5 460.0 2094.5 466.2 2095.4 468.5 2095.5 468.4 2096.5 464.0 2097.5 458.0 2097.5 458.0 2098.5 453.7 2099.5 451.1 2099.6 451.1 2100.5 452.9 2101.5 456.9 2101.8 458.0 2102.5 460.8 2103.5 465.0 2104.2 466.2 2104.5 465.7 2105.5 457.8 2106.5 445.6 2107.0 440.0 2107.5 434.2 2108.5 420.4 2109.5 407.7 2110.5 401.2 2110.5 401.2 2111.5 400.2 2112.5 399.4 2112.8 398.9 2113.5 392.5 2114.5 374.8 2114.8 370.0 2115.5 357.8 2116.5 341.5 2117.0 338.6 2117.5 340.8 2118.5 353.1 2119.0 360.0 2119.5 366.7 2120.5 382.4 2120.9 389.6 2121.5 403.1 2122.5 429.2 2123.0 440.0 2123.5 449.4 2124.5 467.0 2125.5 477.4 2125.6 477.8 2126.5 480.2 2127.5 482.1 2128.5 483.2 2129.0 483.5 2129.5 483.8 2130.5 484.2 2131.5 484.6 2132.5 485.0 2133.5 485.2 2134.5 485.4 2135.5 485.5 2165.0 485.5 Z" fill="#999d9c" stroke="#000" stroke-width="2" stroke-linejoin="round"/>
<path d="M2006.0 486.5h4M2006.0 457.0h4M2006.0 427.5h4M2006.0 398.0h4M2006.0 368.5h4M2030.6 486.0v5.0M2076.8 486.0v5.0M2115.1 486.0v5.0M2150.3 486.0v5.0" stroke="#000" stroke-width="1.4" fill="none"/>
<path d="M2008.5 476.7h1.5M2008.5 466.8h1.5M2008.5 457.0h1.5M2008.5 447.2h1.5M2008.5 437.3h1.5M2008.5 427.5h1.5M2008.5 417.7h1.5M2008.5 407.8h1.5M2008.5 398.0h1.5M2008.5 388.2h1.5M2008.5 378.3h1.5M2008.5 368.5h1.5M2008.5 358.7h1.5M2008.5 348.8h1.5M2008.5 339.0h1.5M2018.9 486.0v3.0M2022.8 486.0v3.0M2025.2 486.0v3.0M2027.5 486.0v3.0M2036.1 486.0v3.0M2040.8 486.0v3.0M2046.3 486.0v3.0M2056.4 486.0v3.0M2063.5 486.0v3.0M2068.2 486.0v3.0M2072.1 486.0v3.0M2090.9 486.0v3.0M2098.7 486.0v3.0M2103.4 486.0v3.0M2107.3 486.0v3.0M2110.4 486.0v3.0M2112.8 486.0v3.0M2127.7 486.0v3.0M2134.7 486.0v3.0M2139.4 486.0v3.0M2143.3 486.0v3.0M2146.4 486.0v3.0M2148.8 486.0v3.0M2159.7 486.0v3.0" stroke="#000" stroke-width="1.2" fill="none"/>
<rect x="2010.5" y="332.1" width="154.5" height="153.4" fill="none" stroke="#000" stroke-width="2"/>
<line x1="2018.1" y1="424.6" x2="2095.9" y2="424.6" stroke="#000" stroke-width="2"/>
<line x1="2018.1" y1="418.1" x2="2018.1" y2="431.1" stroke="#000" stroke-width="2.4"/>
<line x1="2095.9" y1="418.1" x2="2095.9" y2="431.1" stroke="#000" stroke-width="2.4"/>
<text transform="translate(2051.3,412.5) scale(1.07,1)" font-size="23.5" text-anchor="middle">61</text>
<text x="1321.2" y="418" font-size="32.6" text-anchor="end">DASrg</text>
<path d="M1340.2 654.6 1340.2 654.6 1429.2 654.6 1430.2 654.5 1431.2 654.5 1432.2 654.4 1433.2 654.2 1434.2 653.9 1435.2 653.3 1436.2 652.4 1437.2 650.8 1438.2 648.3 1439.2 644.5 1440.2 638.8 1441.2 630.6 1442.2 619.5 1443.2 605.0 1444.2 587.2 1445.2 566.8 1446.2 545.4 1447.2 526.1 1448.2 514.3 1449.2 524.8 1450.2 546.7 1451.2 571.1 1452.2 593.7 1453.2 612.4 1454.2 626.8 1455.2 637.0 1456.2 643.9 1457.2 648.3 1458.2 651.0 1459.2 652.6 1460.2 653.5 1461.2 654.0 1462.2 654.3 1463.2 654.4 1464.2 654.5 1465.2 654.5 1466.2 654.6 1494.2 654.6 Z" fill="#999d9c" stroke="#000" stroke-width="2" stroke-linejoin="round"/>
<path d="M1335.7 655.6h4M1335.7 626.1h4M1335.7 596.6h4M1335.7 567.1h4M1335.7 537.6h4M1335.7 508.1h4M1360.3 655.1v5.0M1406.3 655.1v5.0M1444.6 655.1v5.0M1479.7 655.1v5.0" stroke="#000" stroke-width="1.4" fill="none"/>
<path d="M1338.2 645.8h1.5M1338.2 635.9h1.5M1338.2 626.1h1.5M1338.2 616.3h1.5M1338.2 606.4h1.5M1338.2 596.6h1.5M1338.2 586.8h1.5M1338.2 576.9h1.5M1338.2 567.1h1.5M1338.2 557.3h1.5M1338.2 547.4h1.5M1338.2 537.6h1.5M1338.2 527.8h1.5M1338.2 517.9h1.5M1338.2 508.1h1.5M1348.6 655.1v3.0M1352.5 655.1v3.0M1354.8 655.1v3.0M1357.2 655.1v3.0M1365.7 655.1v3.0M1370.4 655.1v3.0M1375.9 655.1v3.0M1386.0 655.1v3.0M1393.1 655.1v3.0M1397.7 655.1v3.0M1401.6 655.1v3.0M1420.4 655.1v3.0M1428.2 655.1v3.0M1432.9 655.1v3.0M1436.8 655.1v3.0M1439.9 655.1v3.0M1442.2 655.1v3.0M1457.1 655.1v3.0M1464.1 655.1v3.0M1468.8 655.1v3.0M1472.7 655.1v3.0M1475.8 655.1v3.0M1478.1 655.1v3.0M1489.1 655.1v3.0" stroke="#000" stroke-width="1.2" fill="none"/>
<rect x="1340.2" y="500.8" width="154.1" height="153.8" fill="none" stroke="#000" stroke-width="2"/>
<line x1="1347.8" y1="589.1" x2="1425.6" y2="589.1" stroke="#000" stroke-width="2"/>
<line x1="1347.8" y1="582.6" x2="1347.8" y2="595.6" stroke="#000" stroke-width="2.4"/>
<line x1="1425.6" y1="582.6" x2="1425.6" y2="595.6" stroke="#000" stroke-width="2.4"/>
<text transform="translate(1388,579.4) scale(1.07,1)" font-size="23.5" text-anchor="middle">0.4</text>
<path d="M1507.5 654.6 1507.5 654.6 1595.5 654.6 1596.5 654.5 1597.5 654.4 1598.5 654.3 1599.5 654.1 1600.5 653.6 1601.5 652.9 1602.5 651.8 1603.5 650.0 1604.5 647.2 1605.5 643.1 1606.5 637.1 1607.5 628.7 1608.5 617.5 1609.5 603.2 1610.5 585.8 1611.5 565.8 1612.5 544.6 1613.5 524.9 1614.5 510.6 1615.5 513.7 1616.5 532.7 1617.5 556.3 1618.5 579.7 1619.5 600.3 1620.5 617.0 1621.5 629.5 1622.5 638.5 1623.5 644.7 1624.5 648.6 1625.5 651.1 1626.5 652.6 1627.5 653.5 1628.5 654.0 1629.5 654.3 1630.5 654.4 1631.5 654.5 1632.5 654.5 1633.5 654.6 1661.5 654.6 Z" fill="#999d9c" stroke="#000" stroke-width="2" stroke-linejoin="round"/>
<path d="M1503.0 655.6h4M1503.0 626.1h4M1503.0 596.6h4M1503.0 567.1h4M1503.0 537.6h4M1503.0 508.1h4M1527.6 655.1v5.0M1573.7 655.1v5.0M1612.0 655.1v5.0M1647.2 655.1v5.0" stroke="#000" stroke-width="1.4" fill="none"/>
<path d="M1505.5 645.8h1.5M1505.5 635.9h1.5M1505.5 626.1h1.5M1505.5 616.3h1.5M1505.5 606.4h1.5M1505.5 596.6h1.5M1505.5 586.8h1.5M1505.5 576.9h1.5M1505.5 567.1h1.5M1505.5 557.3h1.5M1505.5 547.4h1.5M1505.5 537.6h1.5M1505.5 527.8h1.5M1505.5 517.9h1.5M1505.5 508.1h1.5M1515.9 655.1v3.0M1519.8 655.1v3.0M1522.1 655.1v3.0M1524.5 655.1v3.0M1533.1 655.1v3.0M1537.8 655.1v3.0M1543.2 655.1v3.0M1553.4 655.1v3.0M1560.4 655.1v3.0M1565.1 655.1v3.0M1569.0 655.1v3.0M1587.8 655.1v3.0M1595.6 655.1v3.0M1600.3 655.1v3.0M1604.2 655.1v3.0M1607.3 655.1v3.0M1609.7 655.1v3.0M1624.5 655.1v3.0M1631.5 655.1v3.0M1636.2 655.1v3.0M1640.1 655.1v3.0M1643.3 655.1v3.0M1645.6 655.1v3.0M1656.5 655.1v3.0" stroke="#000" stroke-width="1.2" fill="none"/>
<rect x="1507.5" y="500.8" width="154.3" height="153.8" fill="none" stroke="#000" stroke-width="2"/>
<line x1="1515.1" y1="589.1" x2="1592.9" y2="589.1" stroke="#000" stroke-width="2"/>
<line x1="1515.1" y1="582.6" x2="1515.1" y2="595.6" stroke="#000" stroke-width="2.4"/>
<line x1="1592.9" y1="582.6" x2="1592.9" y2="595.6" stroke="#000" stroke-width="2.4"/>
<text transform="translate(1554.6,579.4) scale(1.07,1)" font-size="23.5" text-anchor="middle">0.6</text>
<path d="M1675.3 654.6 1675.3 654.6 1763.3 654.6 1764.3 654.5 1765.3 654.5 1766.3 654.3 1767.3 654.1 1768.3 653.7 1769.3 653.0 1770.3 651.8 1771.3 650.0 1772.3 647.0 1773.3 642.5 1774.3 635.9 1775.3 626.7 1776.3 614.3 1777.3 598.5 1778.3 579.6 1779.3 558.6 1780.3 537.7 1781.3 520.7 1782.3 516.6 1783.3 533.5 1784.3 557.0 1785.3 580.9 1786.3 602.0 1787.3 618.9 1788.3 631.4 1789.3 640.2 1790.3 646.0 1791.3 649.6 1792.3 651.8 1793.3 653.1 1794.3 653.8 1795.3 654.2 1796.3 654.4 1797.3 654.5 1798.3 654.5 1799.3 654.6 1829.3 654.6 Z" fill="#999d9c" stroke="#000" stroke-width="2" stroke-linejoin="round"/>
<path d="M1670.8 655.6h4M1670.8 626.1h4M1670.8 596.6h4M1670.8 567.1h4M1670.8 537.6h4M1670.8 508.1h4M1695.4 655.1v5.0M1741.6 655.1v5.0M1780.0 655.1v5.0M1815.2 655.1v5.0" stroke="#000" stroke-width="1.4" fill="none"/>
<path d="M1673.3 645.8h1.5M1673.3 635.9h1.5M1673.3 626.1h1.5M1673.3 616.3h1.5M1673.3 606.4h1.5M1673.3 596.6h1.5M1673.3 586.8h1.5M1673.3 576.9h1.5M1673.3 567.1h1.5M1673.3 557.3h1.5M1673.3 547.4h1.5M1673.3 537.6h1.5M1673.3 527.8h1.5M1673.3 517.9h1.5M1673.3 508.1h1.5M1683.7 655.1v3.0M1687.6 655.1v3.0M1690.0 655.1v3.0M1692.3 655.1v3.0M1700.9 655.1v3.0M1705.6 655.1v3.0M1711.1 655.1v3.0M1721.3 655.1v3.0M1728.3 655.1v3.0M1733.0 655.1v3.0M1736.9 655.1v3.0M1755.7 655.1v3.0M1763.6 655.1v3.0M1768.3 655.1v3.0M1772.2 655.1v3.0M1775.3 655.1v3.0M1777.7 655.1v3.0M1792.5 655.1v3.0M1799.6 655.1v3.0M1804.3 655.1v3.0M1808.2 655.1v3.0M1811.3 655.1v3.0M1813.7 655.1v3.0M1824.6 655.1v3.0" stroke="#000" stroke-width="1.2" fill="none"/>
<rect x="1675.3" y="500.8" width="154.6" height="153.8" fill="none" stroke="#000" stroke-width="2"/>
<line x1="1682.9" y1="589.1" x2="1760.7" y2="589.1" stroke="#000" stroke-width="2"/>
<line x1="1682.9" y1="582.6" x2="1682.9" y2="595.6" stroke="#000" stroke-width="2.4"/>
<line x1="1760.7" y1="582.6" x2="1760.7" y2="595.6" stroke="#000" stroke-width="2.4"/>
<text transform="translate(1722.1,579.4) scale(1.07,1)" font-size="23.5" text-anchor="middle">0.5</text>
<path d="M1843.1 654.6 1843.1 654.6 1931.1 654.6 1932.1 654.5 1933.1 654.5 1934.1 654.3 1935.1 654.1 1936.1 653.7 1937.1 652.9 1938.1 651.7 1939.1 649.7 1940.1 646.7 1941.1 642.0 1942.1 635.2 1943.1 625.7 1944.1 613.0 1945.1 597.0 1946.1 577.8 1947.1 556.8 1948.1 536.1 1949.1 519.8 1950.1 518.1 1951.1 536.0 1952.1 559.7 1953.1 583.3 1954.1 604.0 1955.1 620.4 1956.1 632.5 1957.1 640.9 1958.1 646.4 1959.1 649.9 1960.1 652.0 1961.1 653.2 1962.1 653.8 1963.1 654.2 1964.1 654.4 1965.1 654.5 1966.1 654.5 1967.1 654.6 1997.1 654.6 Z" fill="#999d9c" stroke="#000" stroke-width="2" stroke-linejoin="round"/>
<path d="M1838.6 655.6h4M1838.6 626.1h4M1838.6 596.6h4M1838.6 567.1h4M1838.6 537.6h4M1838.6 508.1h4M1863.2 655.1v5.0M1909.3 655.1v5.0M1947.6 655.1v5.0M1982.8 655.1v5.0" stroke="#000" stroke-width="1.4" fill="none"/>
<path d="M1841.1 645.8h1.5M1841.1 635.9h1.5M1841.1 626.1h1.5M1841.1 616.3h1.5M1841.1 606.4h1.5M1841.1 596.6h1.5M1841.1 586.8h1.5M1841.1 576.9h1.5M1841.1 567.1h1.5M1841.1 557.3h1.5M1841.1 547.4h1.5M1841.1 537.6h1.5M1841.1 527.8h1.5M1841.1 517.9h1.5M1841.1 508.1h1.5M1851.5 655.1v3.0M1855.4 655.1v3.0M1857.7 655.1v3.0M1860.1 655.1v3.0M1868.7 655.1v3.0M1873.4 655.1v3.0M1878.8 655.1v3.0M1889.0 655.1v3.0M1896.0 655.1v3.0M1900.7 655.1v3.0M1904.6 655.1v3.0M1923.4 655.1v3.0M1931.2 655.1v3.0M1935.9 655.1v3.0M1939.8 655.1v3.0M1942.9 655.1v3.0M1945.3 655.1v3.0M1960.1 655.1v3.0M1967.1 655.1v3.0M1971.8 655.1v3.0M1975.7 655.1v3.0M1978.9 655.1v3.0M1981.2 655.1v3.0M1992.1 655.1v3.0" stroke="#000" stroke-width="1.2" fill="none"/>
<rect x="1843.1" y="500.8" width="154.3" height="153.8" fill="none" stroke="#000" stroke-width="2"/>
<line x1="1850.7" y1="589.1" x2="1928.5" y2="589.1" stroke="#000" stroke-width="2"/>
<line x1="1850.7" y1="582.6" x2="1850.7" y2="595.6" stroke="#000" stroke-width="2.4"/>
<line x1="1928.5" y1="582.6" x2="1928.5" y2="595.6" stroke="#000" stroke-width="2.4"/>
<text transform="translate(1889.4,579.4) scale(1.07,1)" font-size="23.5" text-anchor="middle">0.6</text>
<path d="M2010.5 654.6 2010.5 654.6 2040.5 654.6 2041.5 654.5 2042.5 654.5 2043.1 654.5 2043.5 654.5 2044.5 654.2 2045.5 653.8 2046.5 653.3 2047.0 653.2 2047.5 653.1 2048.5 652.8 2049.5 652.6 2050.5 652.5 2050.9 652.5 2051.5 652.6 2052.5 652.9 2053.5 653.3 2054.5 653.6 2055.5 653.8 2055.5 653.8 2056.5 653.4 2057.5 652.6 2058.5 651.8 2059.0 651.5 2059.5 651.3 2060.5 651.1 2061.5 650.8 2061.7 650.7 2062.5 650.4 2063.5 650.0 2064.5 649.3 2064.8 649.1 2065.5 648.0 2066.5 645.5 2067.5 643.0 2067.9 642.2 2068.5 641.2 2069.5 639.6 2070.5 638.5 2071.0 638.3 2071.5 638.6 2072.5 640.7 2073.5 643.4 2074.5 645.2 2074.8 645.3 2075.5 644.5 2076.5 641.4 2077.5 637.6 2078.0 636.0 2078.5 634.5 2079.5 631.1 2080.5 628.7 2081.0 628.3 2081.5 628.7 2082.5 631.4 2083.5 635.0 2083.8 636.0 2084.5 638.6 2085.5 642.8 2086.4 644.5 2086.5 644.5 2087.5 642.1 2088.5 637.8 2089.0 636.0 2089.5 634.2 2090.5 630.3 2091.5 627.7 2091.8 627.5 2092.5 628.6 2093.5 632.2 2094.0 634.0 2094.5 635.9 2095.5 640.3 2096.4 642.2 2096.5 642.2 2097.5 638.4 2098.5 632.2 2099.0 630.0 2099.5 628.3 2100.5 625.1 2101.5 623.7 2101.5 623.7 2102.5 624.4 2103.5 625.7 2103.7 626.0 2104.5 627.7 2105.5 629.7 2105.7 629.8 2106.5 627.4 2107.5 620.0 2107.5 620.0 2108.5 604.2 2108.8 598.2 2109.5 582.4 2110.5 557.0 2110.8 550.0 2111.5 531.7 2112.4 517.0 2112.5 517.1 2113.5 525.6 2114.0 530.0 2114.5 533.1 2115.4 536.4 2115.5 536.4 2116.5 533.6 2117.5 530.9 2117.6 530.9 2118.5 535.5 2119.0 540.0 2119.5 545.5 2120.4 559.5 2120.5 561.4 2121.5 586.7 2122.4 610.0 2122.5 612.1 2123.5 634.2 2124.3 644.5 2124.5 645.4 2125.5 649.1 2126.5 651.4 2127.5 652.5 2127.5 652.5 2128.5 653.1 2129.5 653.5 2130.5 653.9 2131.5 654.2 2132.5 654.4 2133.5 654.6 2165.0 654.6 Z" fill="#999d9c" stroke="#000" stroke-width="2" stroke-linejoin="round"/>
<path d="M2006.0 655.6h4M2006.0 626.1h4M2006.0 596.6h4M2006.0 567.1h4M2006.0 537.6h4M2006.0 508.1h4M2030.6 655.1v5.0M2076.8 655.1v5.0M2115.1 655.1v5.0M2150.3 655.1v5.0" stroke="#000" stroke-width="1.4" fill="none"/>
<path d="M2008.5 645.8h1.5M2008.5 635.9h1.5M2008.5 626.1h1.5M2008.5 616.3h1.5M2008.5 606.4h1.5M2008.5 596.6h1.5M2008.5 586.8h1.5M2008.5 576.9h1.5M2008.5 567.1h1.5M2008.5 557.3h1.5M2008.5 547.4h1.5M2008.5 537.6h1.5M2008.5 527.8h1.5M2008.5 517.9h1.5M2008.5 508.1h1.5M2018.9 655.1v3.0M2022.8 655.1v3.0M2025.2 655.1v3.0M2027.5 655.1v3.0M2036.1 655.1v3.0M2040.8 655.1v3.0M2046.3 655.1v3.0M2056.4 655.1v3.0M2063.5 655.1v3.0M2068.2 655.1v3.0M2072.1 655.1v3.0M2090.9 655.1v3.0M2098.7 655.1v3.0M2103.4 655.1v3.0M2107.3 655.1v3.0M2110.4 655.1v3.0M2112.8 655.1v3.0M2127.7 655.1v3.0M2134.7 655.1v3.0M2139.4 655.1v3.0M2143.3 655.1v3.0M2146.4 655.1v3.0M2148.8 655.1v3.0M2159.7 655.1v3.0" stroke="#000" stroke-width="1.2" fill="none"/>
<rect x="2010.5" y="500.8" width="154.5" height="153.8" fill="none" stroke="#000" stroke-width="2"/>
<line x1="2018.1" y1="589.1" x2="2095.9" y2="589.1" stroke="#000" stroke-width="2"/>
<line x1="2018.1" y1="582.6" x2="2018.1" y2="595.6" stroke="#000" stroke-width="2.4"/>
<line x1="2095.9" y1="582.6" x2="2095.9" y2="595.6" stroke="#000" stroke-width="2.4"/>
<text transform="translate(2052.1,579.4) scale(1.07,1)" font-size="23.5" text-anchor="middle">31</text>
<text x="1321.2" y="589" font-size="32.6" text-anchor="end">ANTrg</text>
<path d="M1340.2 916.9 1340.2 916.9 1427.2 916.9 1428.2 916.6 1429.2 916.0 1430.0 915.5 1430.2 915.4 1431.2 914.5 1432.2 913.3 1433.2 911.6 1433.3 911.4 1434.2 908.9 1435.2 904.5 1436.2 898.3 1436.6 895.3 1437.2 887.6 1438.2 870.0 1438.2 870.0 1439.2 855.9 1439.8 846.9 1440.2 839.2 1441.0 825.0 1441.2 823.1 1442.2 817.0 1442.2 817.0 1443.2 821.5 1443.8 826.0 1444.2 829.3 1445.2 838.8 1445.4 840.4 1446.2 845.7 1447.2 851.4 1447.5 853.0 1448.2 856.6 1449.2 861.5 1449.5 863.0 1450.2 866.5 1451.2 871.5 1452.2 876.6 1452.7 879.2 1453.2 882.0 1454.2 887.7 1455.0 892.0 1455.2 893.0 1456.2 898.1 1457.2 902.4 1457.5 903.4 1458.2 905.3 1459.2 907.5 1460.2 909.4 1461.0 910.5 1461.2 910.8 1462.2 912.0 1463.2 913.0 1464.2 913.9 1465.2 914.5 1465.6 914.7 1466.2 914.9 1467.2 915.3 1468.2 915.6 1469.2 915.9 1470.2 916.2 1471.2 916.4 1472.2 916.6 1473.2 916.8 1474.2 916.9 1494.3 916.9 Z" fill="#229bb5" stroke="#000" stroke-width="2" stroke-linejoin="round"/>
<path d="M1335.7 917.9h4M1335.7 888.4h4M1335.7 858.9h4M1335.7 829.4h4M1335.7 799.9h4M1335.7 770.4h4M1360.3 917.4v5.0M1406.3 917.4v5.0M1444.6 917.4v5.0M1479.7 917.4v5.0" stroke="#000" stroke-width="1.4" fill="none"/>
<path d="M1338.2 908.1h1.5M1338.2 898.2h1.5M1338.2 888.4h1.5M1338.2 878.6h1.5M1338.2 868.7h1.5M1338.2 858.9h1.5M1338.2 849.1h1.5M1338.2 839.2h1.5M1338.2 829.4h1.5M1338.2 819.6h1.5M1338.2 809.7h1.5M1338.2 799.9h1.5M1338.2 790.1h1.5M1338.2 780.2h1.5M1338.2 770.4h1.5M1348.6 917.4v3.0M1352.5 917.4v3.0M1354.8 917.4v3.0M1357.2 917.4v3.0M1365.7 917.4v3.0M1370.4 917.4v3.0M1375.9 917.4v3.0M1386.0 917.4v3.0M1393.1 917.4v3.0M1397.7 917.4v3.0M1401.6 917.4v3.0M1420.4 917.4v3.0M1428.2 917.4v3.0M1432.9 917.4v3.0M1436.8 917.4v3.0M1439.9 917.4v3.0M1442.2 917.4v3.0M1457.1 917.4v3.0M1464.1 917.4v3.0M1468.8 917.4v3.0M1472.7 917.4v3.0M1475.8 917.4v3.0M1478.1 917.4v3.0M1489.1 917.4v3.0" stroke="#000" stroke-width="1.2" fill="none"/>
<rect x="1340.2" y="762.6" width="154.1" height="154.3" fill="none" stroke="#000" stroke-width="2"/>
<line x1="1347.8" y1="842.8" x2="1425.6" y2="842.8" stroke="#000" stroke-width="2"/>
<line x1="1347.8" y1="836.3" x2="1347.8" y2="849.3" stroke="#000" stroke-width="2.4"/>
<line x1="1425.6" y1="836.3" x2="1425.6" y2="849.3" stroke="#000" stroke-width="2.4"/>
<text transform="translate(1388.4,833.2) scale(1.07,1)" font-size="23.5" text-anchor="middle">5.9</text>
<path d="M1507.5 916.9 1507.5 916.9 1515.5 916.9 1516.5 916.8 1517.3 916.8 1517.5 916.8 1518.5 916.5 1519.5 916.0 1520.5 915.4 1521.5 914.8 1522.0 914.5 1522.5 914.3 1523.5 913.8 1524.5 913.3 1525.5 912.8 1526.5 912.4 1527.0 912.3 1527.5 912.2 1528.5 911.9 1529.5 911.7 1530.5 911.6 1531.5 911.4 1532.5 911.4 1532.6 911.4 1533.5 911.6 1534.5 912.1 1535.5 912.8 1536.5 913.5 1536.5 913.5 1537.5 914.5 1538.5 915.6 1539.5 916.5 1539.9 916.6 1540.5 916.7 1541.5 916.8 1542.5 916.8 1543.5 916.9 1591.5 916.9 1592.5 916.8 1593.5 916.8 1594.5 916.7 1595.5 916.5 1596.5 916.2 1597.5 915.7 1598.5 914.8 1599.5 913.5 1600.5 911.5 1601.5 908.4 1602.5 904.1 1603.5 898.0 1604.5 889.8 1605.5 879.1 1606.5 866.0 1607.5 850.5 1608.5 833.3 1609.5 815.5 1610.5 798.8 1611.5 785.5 1612.5 779.1 1613.5 785.7 1614.5 799.6 1615.5 816.8 1616.5 835.1 1617.5 852.6 1618.5 868.2 1619.5 881.2 1620.5 891.6 1621.5 899.5 1622.5 905.3 1623.5 909.4 1624.5 912.2 1625.5 914.0 1626.5 915.2 1627.5 915.9 1628.5 916.3 1629.5 916.6 1630.5 916.7 1631.5 916.8 1632.5 916.9 1661.8 916.9 Z" fill="#229bb5" stroke="#000" stroke-width="2" stroke-linejoin="round"/>
<path d="M1503.0 917.9h4M1503.0 888.4h4M1503.0 858.9h4M1503.0 829.4h4M1503.0 799.9h4M1503.0 770.4h4M1527.6 917.4v5.0M1573.7 917.4v5.0M1612.0 917.4v5.0M1647.2 917.4v5.0" stroke="#000" stroke-width="1.4" fill="none"/>
<path d="M1505.5 908.1h1.5M1505.5 898.2h1.5M1505.5 888.4h1.5M1505.5 878.6h1.5M1505.5 868.7h1.5M1505.5 858.9h1.5M1505.5 849.1h1.5M1505.5 839.2h1.5M1505.5 829.4h1.5M1505.5 819.6h1.5M1505.5 809.7h1.5M1505.5 799.9h1.5M1505.5 790.1h1.5M1505.5 780.2h1.5M1505.5 770.4h1.5M1515.9 917.4v3.0M1519.8 917.4v3.0M1522.1 917.4v3.0M1524.5 917.4v3.0M1533.1 917.4v3.0M1537.8 917.4v3.0M1543.2 917.4v3.0M1553.4 917.4v3.0M1560.4 917.4v3.0M1565.1 917.4v3.0M1569.0 917.4v3.0M1587.8 917.4v3.0M1595.6 917.4v3.0M1600.3 917.4v3.0M1604.2 917.4v3.0M1607.3 917.4v3.0M1609.7 917.4v3.0M1624.5 917.4v3.0M1631.5 917.4v3.0M1636.2 917.4v3.0M1640.1 917.4v3.0M1643.3 917.4v3.0M1645.6 917.4v3.0M1656.5 917.4v3.0" stroke="#000" stroke-width="1.2" fill="none"/>
<rect x="1507.5" y="762.6" width="154.3" height="154.3" fill="none" stroke="#000" stroke-width="2"/>
<line x1="1515.1" y1="842.8" x2="1592.9" y2="842.8" stroke="#000" stroke-width="2"/>
<line x1="1515.1" y1="836.3" x2="1515.1" y2="849.3" stroke="#000" stroke-width="2.4"/>
<line x1="1592.9" y1="836.3" x2="1592.9" y2="849.3" stroke="#000" stroke-width="2.4"/>
<text transform="translate(1556,833.2) scale(1.07,1)" font-size="23.5" text-anchor="middle">13</text>
<path d="M1675.3 916.9 1675.3 916.9 1687.3 916.9 1688.3 916.8 1689.2 916.8 1689.3 916.8 1690.3 916.7 1691.3 916.5 1692.3 916.3 1693.3 916.0 1694.3 915.7 1695.0 915.5 1695.3 915.4 1696.3 915.1 1697.3 914.6 1698.3 914.2 1699.3 913.6 1700.3 912.9 1701.3 912.1 1702.1 911.4 1702.3 911.2 1703.3 909.6 1704.3 907.2 1705.3 904.6 1705.5 904.0 1706.3 901.6 1707.3 898.2 1708.3 893.7 1708.6 892.1 1709.3 887.0 1710.3 877.1 1711.0 870.0 1711.3 867.2 1712.3 858.0 1713.3 848.0 1713.4 846.9 1714.3 835.7 1715.3 822.4 1715.5 820.0 1716.3 810.8 1717.3 800.3 1717.5 798.4 1718.3 790.9 1719.3 782.8 1719.8 780.0 1720.3 777.8 1721.3 774.2 1722.3 772.6 1722.3 772.6 1723.3 774.3 1724.3 778.0 1724.3 778.0 1725.3 785.2 1726.0 790.4 1726.3 792.0 1727.3 796.9 1728.3 800.6 1728.8 801.7 1729.3 802.2 1730.3 803.1 1730.4 803.3 1731.3 818.8 1731.6 825.0 1732.3 839.0 1732.8 845.3 1733.3 847.4 1734.3 849.9 1735.3 851.7 1736.0 853.3 1736.3 854.2 1737.3 857.3 1738.3 860.7 1739.3 864.6 1739.3 864.6 1740.3 869.5 1741.3 875.0 1741.7 877.0 1742.3 880.1 1743.3 885.2 1744.1 887.2 1744.3 887.3 1745.3 887.6 1746.3 887.7 1747.3 888.0 1747.3 888.0 1748.3 889.7 1749.3 893.1 1750.3 896.4 1750.5 897.0 1751.3 899.4 1752.3 902.5 1753.3 904.7 1753.8 905.0 1754.3 904.9 1755.3 904.0 1756.3 902.8 1757.3 901.9 1757.8 901.8 1758.3 902.1 1759.3 904.2 1760.3 906.6 1760.5 907.0 1761.3 908.5 1762.3 910.3 1763.3 911.4 1763.5 911.4 1764.3 911.4 1765.3 911.4 1766.3 911.4 1767.3 911.4 1768.3 911.4 1768.3 911.4 1769.3 911.8 1770.3 912.6 1771.3 913.5 1772.3 913.9 1772.4 913.9 1773.3 912.2 1774.3 908.4 1775.0 906.0 1775.3 905.2 1776.3 902.2 1777.3 899.9 1778.0 899.3 1778.3 899.5 1779.3 901.9 1780.3 905.7 1781.0 908.0 1781.3 908.8 1782.3 912.0 1783.3 914.8 1784.3 916.4 1784.5 916.5 1785.3 916.6 1786.3 916.7 1787.3 916.8 1788.3 916.9 1829.9 916.9 Z" fill="#229bb5" stroke="#000" stroke-width="2" stroke-linejoin="round"/>
<path d="M1670.8 917.9h4M1670.8 888.4h4M1670.8 858.9h4M1670.8 829.4h4M1670.8 799.9h4M1670.8 770.4h4M1695.4 917.4v5.0M1741.6 917.4v5.0M1780.0 917.4v5.0M1815.2 917.4v5.0" stroke="#000" stroke-width="1.4" fill="none"/>
<path d="M1673.3 908.1h1.5M1673.3 898.2h1.5M1673.3 888.4h1.5M1673.3 878.6h1.5M1673.3 868.7h1.5M1673.3 858.9h1.5M1673.3 849.1h1.5M1673.3 839.2h1.5M1673.3 829.4h1.5M1673.3 819.6h1.5M1673.3 809.7h1.5M1673.3 799.9h1.5M1673.3 790.1h1.5M1673.3 780.2h1.5M1673.3 770.4h1.5M1683.7 917.4v3.0M1687.6 917.4v3.0M1690.0 917.4v3.0M1692.3 917.4v3.0M1700.9 917.4v3.0M1705.6 917.4v3.0M1711.1 917.4v3.0M1721.3 917.4v3.0M1728.3 917.4v3.0M1733.0 917.4v3.0M1736.9 917.4v3.0M1755.7 917.4v3.0M1763.6 917.4v3.0M1768.3 917.4v3.0M1772.2 917.4v3.0M1775.3 917.4v3.0M1777.7 917.4v3.0M1792.5 917.4v3.0M1799.6 917.4v3.0M1804.3 917.4v3.0M1808.2 917.4v3.0M1811.3 917.4v3.0M1813.7 917.4v3.0M1824.6 917.4v3.0" stroke="#000" stroke-width="1.2" fill="none"/>
<rect x="1675.3" y="762.6" width="154.6" height="154.3" fill="none" stroke="#000" stroke-width="2"/>
<line x1="1682.9" y1="842.8" x2="1760.7" y2="842.8" stroke="#000" stroke-width="2"/>
<line x1="1682.9" y1="836.3" x2="1682.9" y2="849.3" stroke="#000" stroke-width="2.4"/>
<line x1="1760.7" y1="836.3" x2="1760.7" y2="849.3" stroke="#000" stroke-width="2.4"/>
<text transform="translate(1697.7,833.2) scale(1.07,1)" font-size="23.5" text-anchor="middle">97</text>
<path d="M1843.1 916.9 1843.1 916.9 1856.1 916.9 1857.1 916.8 1858.1 916.8 1858.7 916.8 1859.1 916.8 1860.1 916.6 1861.1 916.2 1862.1 915.8 1863.0 915.5 1863.1 915.5 1864.1 915.1 1865.1 914.8 1866.1 914.5 1867.1 914.0 1868.1 913.3 1868.4 913.1 1869.1 911.9 1870.1 908.6 1871.1 904.6 1871.5 903.0 1872.1 900.7 1873.1 896.5 1874.1 891.7 1874.9 887.2 1875.1 885.9 1876.1 877.9 1877.1 868.4 1878.0 860.0 1878.1 859.1 1879.1 850.8 1880.1 842.4 1881.1 832.9 1881.3 830.7 1882.1 820.0 1883.1 805.0 1883.5 800.0 1884.1 793.3 1885.1 784.0 1885.4 782.3 1886.1 779.5 1887.1 776.5 1887.8 775.8 1888.1 775.8 1889.1 776.3 1890.1 776.9 1890.2 777.0 1891.1 777.7 1892.1 778.6 1892.6 779.1 1893.1 779.6 1894.1 780.6 1895.1 782.3 1895.1 782.3 1896.1 790.3 1896.7 797.0 1897.1 801.4 1898.1 812.8 1898.3 814.6 1899.1 821.4 1900.1 829.7 1901.1 836.3 1902.1 839.5 1902.3 839.6 1903.1 838.4 1904.1 835.0 1905.1 832.0 1905.6 831.5 1906.1 832.5 1907.1 838.6 1908.1 847.0 1908.5 850.0 1909.1 855.1 1910.1 864.8 1911.1 870.2 1911.2 870.3 1912.1 868.6 1913.1 864.6 1914.1 861.6 1914.4 861.4 1915.1 863.2 1916.1 869.8 1917.1 877.5 1917.5 880.0 1918.1 883.6 1919.1 890.1 1920.1 895.3 1920.9 896.9 1921.1 896.8 1922.1 893.8 1923.1 889.4 1924.1 887.2 1924.1 887.2 1925.1 888.9 1926.1 892.7 1927.1 896.7 1927.5 898.0 1928.1 899.9 1929.1 903.1 1930.1 905.4 1930.6 905.8 1931.1 905.7 1932.1 904.7 1933.1 903.3 1934.1 901.9 1935.1 901.1 1935.4 901.0 1936.1 901.5 1937.1 903.4 1938.1 905.7 1939.1 907.2 1939.5 907.4 1940.1 906.4 1941.1 901.6 1942.1 896.4 1942.5 895.0 1943.1 893.5 1944.1 891.0 1945.1 889.3 1945.9 888.8 1946.1 888.9 1947.1 892.5 1948.1 898.1 1948.5 900.0 1949.1 902.8 1950.1 908.2 1951.1 913.1 1952.1 916.0 1952.4 916.3 1953.1 916.5 1954.1 916.8 1955.1 916.9 1997.4 916.9 Z" fill="#229bb5" stroke="#000" stroke-width="2" stroke-linejoin="round"/>
<path d="M1838.6 917.9h4M1838.6 888.4h4M1838.6 858.9h4M1838.6 829.4h4M1838.6 799.9h4M1838.6 770.4h4M1863.2 917.4v5.0M1909.3 917.4v5.0M1947.6 917.4v5.0M1982.8 917.4v5.0" stroke="#000" stroke-width="1.4" fill="none"/>
<path d="M1841.1 908.1h1.5M1841.1 898.2h1.5M1841.1 888.4h1.5M1841.1 878.6h1.5M1841.1 868.7h1.5M1841.1 858.9h1.5M1841.1 849.1h1.5M1841.1 839.2h1.5M1841.1 829.4h1.5M1841.1 819.6h1.5M1841.1 809.7h1.5M1841.1 799.9h1.5M1841.1 790.1h1.5M1841.1 780.2h1.5M1841.1 770.4h1.5M1851.5 917.4v3.0M1855.4 917.4v3.0M1857.7 917.4v3.0M1860.1 917.4v3.0M1868.7 917.4v3.0M1873.4 917.4v3.0M1878.8 917.4v3.0M1889.0 917.4v3.0M1896.0 917.4v3.0M1900.7 917.4v3.0M1904.6 917.4v3.0M1923.4 917.4v3.0M1931.2 917.4v3.0M1935.9 917.4v3.0M1939.8 917.4v3.0M1942.9 917.4v3.0M1945.3 917.4v3.0M1960.1 917.4v3.0M1967.1 917.4v3.0M1971.8 917.4v3.0M1975.7 917.4v3.0M1978.9 917.4v3.0M1981.2 917.4v3.0M1992.1 917.4v3.0" stroke="#000" stroke-width="1.2" fill="none"/>
<rect x="1843.1" y="762.6" width="154.3" height="154.3" fill="none" stroke="#000" stroke-width="2"/>
<line x1="1850.7" y1="842.8" x2="1928.5" y2="842.8" stroke="#000" stroke-width="2"/>
<line x1="1850.7" y1="836.3" x2="1850.7" y2="849.3" stroke="#000" stroke-width="2.4"/>
<line x1="1928.5" y1="836.3" x2="1928.5" y2="849.3" stroke="#000" stroke-width="2.4"/>
<text transform="translate(1866,833.2) scale(1.07,1)" font-size="23.5" text-anchor="middle">95</text>
<path d="M2010.5 916.9 2010.5 916.9 2032.5 916.9 2033.5 916.8 2034.5 916.8 2035.1 916.8 2035.5 916.8 2036.5 916.6 2037.5 916.2 2038.5 915.7 2039.5 915.2 2040.0 915.0 2040.5 914.8 2041.5 914.3 2042.5 913.8 2043.5 913.2 2044.4 912.5 2044.5 912.4 2045.5 910.9 2046.5 908.6 2047.5 906.0 2048.5 903.4 2049.1 902.0 2049.5 901.1 2050.5 898.7 2051.5 896.4 2052.5 894.6 2052.6 894.4 2053.5 893.0 2054.5 891.5 2055.5 890.5 2056.1 890.3 2056.5 890.7 2057.5 892.8 2057.9 893.2 2058.5 892.3 2059.5 888.1 2060.5 884.0 2060.8 883.3 2061.5 882.3 2062.5 881.2 2063.5 880.4 2064.5 879.6 2065.5 878.6 2065.5 878.6 2066.5 877.4 2067.5 876.0 2068.5 874.5 2068.5 874.5 2069.5 873.0 2070.1 871.6 2070.5 869.1 2071.5 858.1 2071.9 855.2 2072.5 852.8 2073.5 850.5 2073.6 850.5 2074.5 852.0 2075.5 855.0 2075.5 855.0 2076.5 858.9 2077.5 862.1 2077.7 862.2 2078.5 858.1 2079.5 845.9 2080.5 833.6 2080.7 831.8 2081.5 824.9 2082.5 817.5 2083.2 815.5 2083.5 815.7 2084.5 818.7 2085.5 823.6 2085.8 825.0 2086.5 829.8 2087.5 838.1 2088.3 841.2 2088.5 840.9 2089.5 831.2 2090.5 814.7 2091.5 800.0 2091.5 800.0 2092.5 787.6 2093.5 777.3 2094.1 775.1 2094.5 776.6 2095.5 789.2 2096.2 800.0 2096.5 805.1 2097.5 826.8 2098.2 834.2 2098.5 833.3 2099.5 821.7 2100.3 812.0 2100.5 810.3 2101.5 801.7 2102.3 798.5 2102.5 798.7 2103.5 804.9 2104.5 815.1 2105.0 820.0 2105.5 825.2 2106.5 838.0 2107.5 848.3 2108.1 850.5 2108.5 848.8 2109.5 835.2 2110.5 820.0 2110.5 820.0 2111.5 807.7 2112.5 800.9 2112.5 800.9 2113.5 803.9 2114.5 810.0 2114.5 810.0 2115.5 817.5 2116.3 826.0 2116.5 828.8 2117.5 849.2 2118.0 860.0 2118.5 871.3 2119.5 892.7 2119.8 896.1 2120.5 901.1 2121.5 906.7 2122.5 910.8 2123.5 913.2 2123.9 913.7 2124.5 914.3 2125.5 915.1 2126.5 915.8 2127.5 916.4 2128.5 916.7 2129.5 916.9 2165.0 916.9 Z" fill="#229bb5" stroke="#000" stroke-width="2" stroke-linejoin="round"/>
<path d="M2006.0 917.9h4M2006.0 888.4h4M2006.0 858.9h4M2006.0 829.4h4M2006.0 799.9h4M2006.0 770.4h4M2030.6 917.4v5.0M2076.8 917.4v5.0M2115.1 917.4v5.0M2150.3 917.4v5.0" stroke="#000" stroke-width="1.4" fill="none"/>
<path d="M2008.5 908.1h1.5M2008.5 898.2h1.5M2008.5 888.4h1.5M2008.5 878.6h1.5M2008.5 868.7h1.5M2008.5 858.9h1.5M2008.5 849.1h1.5M2008.5 839.2h1.5M2008.5 829.4h1.5M2008.5 819.6h1.5M2008.5 809.7h1.5M2008.5 799.9h1.5M2008.5 790.1h1.5M2008.5 780.2h1.5M2008.5 770.4h1.5M2018.9 917.4v3.0M2022.8 917.4v3.0M2025.2 917.4v3.0M2027.5 917.4v3.0M2036.1 917.4v3.0M2040.8 917.4v3.0M2046.3 917.4v3.0M2056.4 917.4v3.0M2063.5 917.4v3.0M2068.2 917.4v3.0M2072.1 917.4v3.0M2090.9 917.4v3.0M2098.7 917.4v3.0M2103.4 917.4v3.0M2107.3 917.4v3.0M2110.4 917.4v3.0M2112.8 917.4v3.0M2127.7 917.4v3.0M2134.7 917.4v3.0M2139.4 917.4v3.0M2143.3 917.4v3.0M2146.4 917.4v3.0M2148.8 917.4v3.0M2159.7 917.4v3.0" stroke="#000" stroke-width="1.2" fill="none"/>
<rect x="2010.5" y="762.6" width="154.5" height="154.3" fill="none" stroke="#000" stroke-width="2"/>
<line x1="2018.1" y1="842.8" x2="2095.9" y2="842.8" stroke="#000" stroke-width="2"/>
<line x1="2018.1" y1="836.3" x2="2018.1" y2="849.3" stroke="#000" stroke-width="2.4"/>
<line x1="2095.9" y1="836.3" x2="2095.9" y2="849.3" stroke="#000" stroke-width="2.4"/>
<text transform="translate(2052.6,833.2) scale(1.07,1)" font-size="23.5" text-anchor="middle">82</text>
<text x="1321.2" y="851.3" font-size="32.6" text-anchor="end">MJ23tg</text>
<text x="1356.3" y="675.5" font-size="14.5" text-anchor="middle">0</text>
<text x="1398.4" y="675.5" font-size="14.5">10<tspan font-size="10" dy="-6">3</tspan></text>
<text x="1434.4" y="675.5" font-size="14.5">10<tspan font-size="10" dy="-6">4</tspan></text>
<text x="1468.9" y="675.5" font-size="14.5">10<tspan font-size="10" dy="-6">5</tspan></text>
<text x="1356.3" y="937.5" font-size="14.5" text-anchor="middle">0</text>
<text x="1398.4" y="937.5" font-size="14.5">10<tspan font-size="10" dy="-6">3</tspan></text>
<text x="1434.4" y="937.5" font-size="14.5">10<tspan font-size="10" dy="-6">4</tspan></text>
<text x="1468.9" y="937.5" font-size="14.5">10<tspan font-size="10" dy="-6">5</tspan></text>
<text x="1339.4" y="702.9" font-size="32">CTV</text>
<line x1="1411.1" y1="689.8" x2="2147.7" y2="689.8" stroke="#000" stroke-width="2.1"/>
<path d="M2165.7,689.8 L2142.4,680.1 L2146.9,689.8 L2142.4,699.4 Z" fill="#000"/>
<text x="1758.8" y="726.4" font-size="32.4" text-anchor="middle">(gated on TCR&#946;<tspan font-size="17" dy="-12">+</tspan><tspan dy="12">CD4</tspan><tspan font-size="17" dy="-12">+</tspan><tspan dy="12">Thy1.1</tspan><tspan font-size="17" dy="-12">+</tspan><tspan dy="12">)</tspan></text>
<text x="1338.4" y="963.2" font-size="32">CTV</text>
<line x1="1407.6" y1="951.6" x2="2147.7" y2="951.6" stroke="#000" stroke-width="2.1"/>
<path d="M2165.7,951.6 L2142.4,941.9 L2146.9,951.6 L2142.4,961.2 Z" fill="#000"/>
<text x="1758.3" y="986.4" font-size="32.4" text-anchor="middle">(gated on TCR&#946;<tspan font-size="17" dy="-12">+</tspan><tspan dy="12">CD4</tspan><tspan font-size="17" dy="-12">+</tspan><tspan dy="12">)</tspan></text>
<text x="-3" y="1007" font-size="40" font-weight="bold">b</text>
<circle cx="178.1" cy="998.2" r="8.2" fill="#3a3a3a" stroke="#000" stroke-width="1.8"/>
<text x="203.5" y="1008.1" font-size="32">Group 1</text>
<circle cx="379" cy="998.2" r="8.2" fill="#fff" stroke="#000" stroke-width="1.8"/>
<text x="399.5" y="1008.1" font-size="32">Group 2</text>
<circle cx="573.3" cy="998.2" r="8.2" fill="#a8a8a8" stroke="#000" stroke-width="1.8"/>
<text x="594.7" y="1008.1" font-size="32">Group 3</text>
<line x1="203.8" y1="1120.6" x2="341.2" y2="1120.6" stroke="#000" stroke-width="1.7"/>
<line x1="386.1" y1="1120.6" x2="671.4" y2="1120.6" stroke="#000" stroke-width="1.7"/>
<line x1="716.3" y1="1120.6" x2="911.9" y2="1120.6" stroke="#000" stroke-width="1.7"/>
<path d="M285.9,1120.6 L285.9,1105.2 L513.7,1105.2 L513.7,1120.6" fill="none" stroke="#000" stroke-width="1.7"/>
<path d="M543.5,1120.6 L543.5,1105.2 L801.1,1105.2 L801.1,1120.6" fill="none" stroke="#000" stroke-width="1.7"/>
<path d="M261.3,1120.6 L261.3,1064.2 L826,1064.2 L826,1120.6" fill="none" stroke="#000" stroke-width="1.7"/>
<text x="539.2" y="1055" font-size="27.5" text-anchor="middle">&lt;0.0001</text>
<text x="400.1" y="1094.3" font-size="28" text-anchor="middle">0.0163</text>
<text x="671.6" y="1094.3" font-size="28" text-anchor="middle">0.0008</text>
<line x1="181" y1="1437.3" x2="932" y2="1437.3" stroke="#808080" stroke-width="2" stroke-dasharray="6,3.2"/>
<line x1="362" y1="1146" x2="362" y2="1448" stroke="#808080" stroke-width="2" stroke-dasharray="5.5,3.7"/>
<line x1="697.8" y1="1146" x2="697.8" y2="1448" stroke="#808080" stroke-width="2" stroke-dasharray="5.5,3.7"/>
<line x1="179.6" y1="1144.5" x2="179.6" y2="1450.4" stroke="#000" stroke-width="2"/>
<line x1="178.6" y1="1449.5" x2="932.5" y2="1449.5" stroke="#000" stroke-width="2"/>
<line x1="170" y1="1145.4" x2="179.6" y2="1145.4" stroke="#000" stroke-width="1.8"/>
<text x="164.5" y="1156.9" font-size="26" text-anchor="end">100</text>
<line x1="170" y1="1217.62" x2="179.6" y2="1217.62" stroke="#000" stroke-width="1.8"/>
<text x="164.5" y="1229.12" font-size="26" text-anchor="end">75</text>
<line x1="170" y1="1289.85" x2="179.6" y2="1289.85" stroke="#000" stroke-width="1.8"/>
<text x="164.5" y="1301.35" font-size="26" text-anchor="end">50</text>
<line x1="170" y1="1362.08" x2="179.6" y2="1362.08" stroke="#000" stroke-width="1.8"/>
<text x="164.5" y="1373.58" font-size="26" text-anchor="end">25</text>
<line x1="170" y1="1434.3" x2="179.6" y2="1434.3" stroke="#000" stroke-width="1.8"/>
<text x="164.5" y="1445.8" font-size="26" text-anchor="end">0</text>
<text x="0" y="0" font-size="32.3" text-anchor="middle" transform="translate(95.5,1286) rotate(-90)">CTV-diluted (%)</text>
<line x1="218.4" y1="1449.5" x2="218.4" y2="1459.8" stroke="#000" stroke-width="1.8"/>
<text transform="translate(226.4,1476) rotate(-45)" text-anchor="end" font-size="27.5">APRrg</text>
<line x1="270.2" y1="1449.5" x2="270.2" y2="1459.8" stroke="#000" stroke-width="1.8"/>
<text transform="translate(278.2,1476) rotate(-45)" text-anchor="end" font-size="27.5">DASrg</text>
<line x1="322.4" y1="1449.5" x2="322.4" y2="1459.8" stroke="#000" stroke-width="1.8"/>
<text transform="translate(330.4,1476) rotate(-45)" text-anchor="end" font-size="27.5">ANTrg</text>
<line x1="399.5" y1="1449.5" x2="399.5" y2="1459.8" stroke="#000" stroke-width="1.8"/>
<text transform="translate(407.5,1476) rotate(-45)" text-anchor="end" font-size="27.5">GPSrg</text>
<line x1="451.7" y1="1449.5" x2="451.7" y2="1459.8" stroke="#000" stroke-width="1.8"/>
<text transform="translate(459.7,1476) rotate(-45)" text-anchor="end" font-size="27.5">GRGrg</text>
<line x1="503.5" y1="1449.5" x2="503.5" y2="1459.8" stroke="#000" stroke-width="1.8"/>
<text transform="translate(511.5,1476) rotate(-45)" text-anchor="end" font-size="27.5">GPNrg</text>
<line x1="555" y1="1449.5" x2="555" y2="1459.8" stroke="#000" stroke-width="1.8"/>
<text transform="translate(563,1476) rotate(-45)" text-anchor="end" font-size="27.5">SAPrg</text>
<line x1="607" y1="1449.5" x2="607" y2="1459.8" stroke="#000" stroke-width="1.8"/>
<text transform="translate(615,1476) rotate(-45)" text-anchor="end" font-size="27.5">GSNrg</text>
<line x1="658.8" y1="1449.5" x2="658.8" y2="1459.8" stroke="#000" stroke-width="1.8"/>
<text transform="translate(666.8,1476) rotate(-45)" text-anchor="end" font-size="27.5">IGPrg</text>
<line x1="736" y1="1449.5" x2="736" y2="1459.8" stroke="#000" stroke-width="1.8"/>
<text transform="translate(744,1476) rotate(-45)" text-anchor="end" font-size="27.5">SKVrg</text>
<line x1="787.9" y1="1449.5" x2="787.9" y2="1459.8" stroke="#000" stroke-width="1.8"/>
<text transform="translate(795.9,1476) rotate(-45)" text-anchor="end" font-size="27.5">SRPrg</text>
<line x1="839.9" y1="1449.5" x2="839.9" y2="1459.8" stroke="#000" stroke-width="1.8"/>
<text transform="translate(847.9,1476) rotate(-45)" text-anchor="end" font-size="27.5">SASrg</text>
<line x1="891.8" y1="1449.5" x2="891.8" y2="1459.8" stroke="#000" stroke-width="1.8"/>
<text transform="translate(899.8,1476) rotate(-45)" text-anchor="end" font-size="27.5">GTGrg</text>
<circle cx="216" cy="1419.5" r="7.3" fill="#3a3a3a" stroke="#000" stroke-width="1.8"/>
<circle cx="222" cy="1422" r="7.3" fill="#3a3a3a" stroke="#000" stroke-width="1.8"/>
<circle cx="214.5" cy="1426" r="7.3" fill="#3a3a3a" stroke="#000" stroke-width="1.8"/>
<circle cx="218.4" cy="1422.6" r="7.3" fill="#3a3a3a" stroke="#000" stroke-width="1.8"/>
<circle cx="218.4" cy="1436.4" r="7.3" fill="#3a3a3a" stroke="#000" stroke-width="1.8"/>
<circle cx="268.2" cy="1430.4" r="7.3" fill="#3a3a3a" stroke="#000" stroke-width="1.8"/>
<circle cx="273.5" cy="1432.8" r="7.3" fill="#3a3a3a" stroke="#000" stroke-width="1.8"/>
<circle cx="270.5" cy="1436.4" r="7.3" fill="#3a3a3a" stroke="#000" stroke-width="1.8"/>
<circle cx="310.7" cy="1432.2" r="7.3" fill="#3a3a3a" stroke="#000" stroke-width="1.8"/>
<circle cx="316.7" cy="1430.4" r="7.3" fill="#3a3a3a" stroke="#000" stroke-width="1.8"/>
<circle cx="323.9" cy="1432.8" r="7.3" fill="#3a3a3a" stroke="#000" stroke-width="1.8"/>
<circle cx="328.1" cy="1420.2" r="7.3" fill="#3a3a3a" stroke="#000" stroke-width="1.8"/>
<circle cx="334.7" cy="1432.2" r="7.3" fill="#3a3a3a" stroke="#000" stroke-width="1.8"/>
<circle cx="321.5" cy="1434" r="7.3" fill="#3a3a3a" stroke="#000" stroke-width="1.8"/>
<circle cx="399.6" cy="1308.2" r="7.3" fill="#fff" stroke="#000" stroke-width="1.8"/>
<circle cx="399.6" cy="1408.9" r="7.3" fill="#fff" stroke="#000" stroke-width="1.8"/>
<circle cx="445" cy="1369.9" r="7.3" fill="#fff" stroke="#000" stroke-width="1.8"/>
<circle cx="462.4" cy="1354.5" r="7.3" fill="#fff" stroke="#000" stroke-width="1.8"/>
<circle cx="451.7" cy="1362" r="7.3" fill="#fff" stroke="#000" stroke-width="1.8"/>
<circle cx="501.4" cy="1358.8" r="7.3" fill="#fff" stroke="#000" stroke-width="1.8"/>
<circle cx="503.1" cy="1371" r="7.3" fill="#fff" stroke="#000" stroke-width="1.8"/>
<circle cx="503.1" cy="1374.2" r="7.3" fill="#fff" stroke="#000" stroke-width="1.8"/>
<circle cx="505.7" cy="1367.4" r="7.3" fill="#fff" stroke="#000" stroke-width="1.8"/>
<circle cx="555" cy="1384.5" r="7.3" fill="#fff" stroke="#000" stroke-width="1.8"/>
<circle cx="607.4" cy="1372.1" r="7.3" fill="#fff" stroke="#000" stroke-width="1.8"/>
<circle cx="618.8" cy="1391.8" r="7.3" fill="#fff" stroke="#000" stroke-width="1.8"/>
<circle cx="595.2" cy="1399.5" r="7.3" fill="#fff" stroke="#000" stroke-width="1.8"/>
<circle cx="610.2" cy="1405.3" r="7.3" fill="#fff" stroke="#000" stroke-width="1.8"/>
<circle cx="603.1" cy="1411.7" r="7.3" fill="#fff" stroke="#000" stroke-width="1.8"/>
<circle cx="657.3" cy="1414.9" r="7.3" fill="#fff" stroke="#000" stroke-width="1.8"/>
<circle cx="658.8" cy="1426.7" r="7.3" fill="#fff" stroke="#000" stroke-width="1.8"/>
<circle cx="658.8" cy="1423.5" r="7.3" fill="#fff" stroke="#000" stroke-width="1.8"/>
<circle cx="735.4" cy="1156.8" r="7.3" fill="#a8a8a8" stroke="#000" stroke-width="1.8"/>
<circle cx="738.1" cy="1157.4" r="7.3" fill="#a8a8a8" stroke="#000" stroke-width="1.8"/>
<circle cx="736" cy="1164.3" r="7.3" fill="#a8a8a8" stroke="#000" stroke-width="1.8"/>
<circle cx="724.6" cy="1171.1" r="7.3" fill="#a8a8a8" stroke="#000" stroke-width="1.8"/>
<circle cx="742.9" cy="1188.9" r="7.3" fill="#a8a8a8" stroke="#000" stroke-width="1.8"/>
<circle cx="736" cy="1246.1" r="7.3" fill="#a8a8a8" stroke="#000" stroke-width="1.8"/>
<circle cx="776.7" cy="1206.1" r="7.3" fill="#a8a8a8" stroke="#000" stroke-width="1.8"/>
<circle cx="794.3" cy="1215.3" r="7.3" fill="#a8a8a8" stroke="#000" stroke-width="1.8"/>
<circle cx="787.9" cy="1290.3" r="7.3" fill="#a8a8a8" stroke="#000" stroke-width="1.8"/>
<circle cx="833.3" cy="1227.5" r="7.3" fill="#a8a8a8" stroke="#000" stroke-width="1.8"/>
<circle cx="851.1" cy="1221.5" r="7.3" fill="#a8a8a8" stroke="#000" stroke-width="1.8"/>
<circle cx="839.9" cy="1259" r="7.3" fill="#a8a8a8" stroke="#000" stroke-width="1.8"/>
<circle cx="839.9" cy="1283.2" r="7.3" fill="#a8a8a8" stroke="#000" stroke-width="1.8"/>
<circle cx="891.3" cy="1145.4" r="7.3" fill="#a8a8a8" stroke="#000" stroke-width="1.8"/>
<circle cx="902.5" cy="1154" r="7.3" fill="#a8a8a8" stroke="#000" stroke-width="1.8"/>
<circle cx="885.3" cy="1170.3" r="7.3" fill="#a8a8a8" stroke="#000" stroke-width="1.8"/>
<circle cx="891.8" cy="1331.8" r="7.3" fill="#a8a8a8" stroke="#000" stroke-width="1.8"/>
<circle cx="902.5" cy="1357.8" r="7.3" fill="#a8a8a8" stroke="#000" stroke-width="1.8"/>
<circle cx="885.3" cy="1370.6" r="7.3" fill="#a8a8a8" stroke="#000" stroke-width="1.8"/>
<rect x="205.5" y="1425.4" width="25.8" height="5.2" fill="#000"/>
<rect x="257.3" y="1431.1" width="25.8" height="5.2" fill="#000"/>
<rect x="309.5" y="1427.8" width="25.8" height="5.2" fill="#000"/>
<line x1="399.5" y1="1308.2" x2="399.5" y2="1408.9" stroke="#000" stroke-width="1.8"/>
<line x1="396.2" y1="1308.2" x2="402.8" y2="1308.2" stroke="#000" stroke-width="1.8"/>
<line x1="396.2" y1="1408.9" x2="402.8" y2="1408.9" stroke="#000" stroke-width="1.8"/>
<rect x="386.6" y="1356.2" width="25.8" height="5.2" fill="#000"/>
<line x1="451.7" y1="1354.5" x2="451.7" y2="1370" stroke="#000" stroke-width="1.8"/>
<line x1="448.4" y1="1354.5" x2="455" y2="1354.5" stroke="#000" stroke-width="1.8"/>
<line x1="448.4" y1="1370" x2="455" y2="1370" stroke="#000" stroke-width="1.8"/>
<rect x="438.8" y="1359.4" width="25.8" height="5.2" fill="#000"/>
<rect x="490.6" y="1365.2" width="25.8" height="5.2" fill="#000"/>
<rect x="542.1" y="1381.9" width="25.8" height="5.2" fill="#000"/>
<line x1="607" y1="1389.9" x2="607" y2="1403" stroke="#000" stroke-width="1.8"/>
<line x1="603.7" y1="1389.9" x2="610.3" y2="1389.9" stroke="#000" stroke-width="1.8"/>
<line x1="603.7" y1="1403" x2="610.3" y2="1403" stroke="#000" stroke-width="1.8"/>
<rect x="594.1" y="1393.7" width="25.8" height="5.2" fill="#000"/>
<rect x="645.9" y="1418.7" width="25.8" height="5.2" fill="#000"/>
<line x1="736" y1="1164.3" x2="736" y2="1181.4" stroke="#000" stroke-width="1.8"/>
<line x1="732.7" y1="1164.3" x2="739.3" y2="1164.3" stroke="#000" stroke-width="1.8"/>
<line x1="732.7" y1="1181.4" x2="739.3" y2="1181.4" stroke="#000" stroke-width="1.8"/>
<rect x="723.1" y="1170.3" width="25.8" height="5.2" fill="#000"/>
<line x1="787.9" y1="1211" x2="787.9" y2="1264.3" stroke="#000" stroke-width="1.8"/>
<line x1="784.6" y1="1211" x2="791.2" y2="1211" stroke="#000" stroke-width="1.8"/>
<line x1="784.6" y1="1264.3" x2="791.2" y2="1264.3" stroke="#000" stroke-width="1.8"/>
<rect x="775" y="1234.5" width="25.8" height="5.2" fill="#000"/>
<line x1="839.9" y1="1233.5" x2="839.9" y2="1261.8" stroke="#000" stroke-width="1.8"/>
<line x1="836.6" y1="1233.5" x2="843.2" y2="1233.5" stroke="#000" stroke-width="1.8"/>
<line x1="836.6" y1="1261.8" x2="843.2" y2="1261.8" stroke="#000" stroke-width="1.8"/>
<rect x="827" y="1245.2" width="25.8" height="5.2" fill="#000"/>
<line x1="891.8" y1="1211" x2="891.8" y2="1299.7" stroke="#000" stroke-width="1.8"/>
<line x1="888.5" y1="1211" x2="895.1" y2="1211" stroke="#000" stroke-width="1.8"/>
<line x1="888.5" y1="1299.7" x2="895.1" y2="1299.7" stroke="#000" stroke-width="1.8"/>
<rect x="878.9" y="1252.7" width="25.8" height="5.2" fill="#000"/>
<text x="1006.5" y="1035.2" font-size="40" font-weight="bold">d</text>
<circle cx="1109.7" cy="1077.6" r="8.2" fill="#229bb5" stroke="#000" stroke-width="1.8"/>
<text x="1129.5" y="1088.2" font-size="32.4">Control</text>
<circle cx="1282.4" cy="1077.7" r="8.2" fill="#3a3a3a" stroke="#000" stroke-width="1.8"/>
<text x="1301" y="1088.2" font-size="32">Group 1</text>
<text x="1224.6" y="1150" font-size="32" text-anchor="middle">No DC</text>
<text x="1429.8" y="1150" font-size="32" text-anchor="middle">DC</text>
<text x="1637" y="1121.2" font-size="28" text-anchor="middle">DC +</text>
<text x="1637" y="1149.3" font-size="28" text-anchor="middle"><tspan font-style="italic">Foxp3</tspan><tspan font-style="italic" font-size="17" dy="-10">WT</tspan><tspan dy="10"> PR</tspan></text>
<text x="1848.2" y="1121.2" font-size="28" text-anchor="middle">DC +</text>
<text x="1848.2" y="1149.3" font-size="28" text-anchor="middle"><tspan font-style="italic">Foxp3</tspan><tspan font-style="italic" font-size="17" dy="-10">DTR</tspan><tspan dy="10"> PR</tspan></text>
<text x="2052.7" y="1121.2" font-size="28" text-anchor="middle">&#945;CD3&#949;/CD28</text>
<text x="2053.4" y="1149.3" font-size="28" text-anchor="middle">beads</text>
<line x1="1317.7" y1="1217" x2="1317.7" y2="1451" stroke="#707070" stroke-width="1.9" stroke-dasharray="1.8,2.4"/>
<line x1="1530" y1="1217" x2="1530" y2="1451" stroke="#707070" stroke-width="1.9" stroke-dasharray="1.8,2.4"/>
<line x1="1742.4" y1="1217" x2="1742.4" y2="1451" stroke="#707070" stroke-width="1.9" stroke-dasharray="1.8,2.4"/>
<line x1="1955.1" y1="1217" x2="1955.1" y2="1451" stroke="#707070" stroke-width="1.9" stroke-dasharray="1.8,2.4"/>
<line x1="1113" y1="1443.3" x2="2162" y2="1443.3" stroke="#808080" stroke-width="2" stroke-dasharray="4.6,2.8"/>
<line x1="1112.2" y1="1218.5" x2="1112.2" y2="1453.3" stroke="#000" stroke-width="2"/>
<line x1="1111.2" y1="1452.4" x2="2162.2" y2="1452.4" stroke="#000" stroke-width="2"/>
<line x1="1104.7" y1="1219.4" x2="1112.2" y2="1219.4" stroke="#000" stroke-width="1.8"/>
<text x="1094" y="1228.4" font-size="22.5" text-anchor="end">100</text>
<line x1="1104.7" y1="1274.9" x2="1112.2" y2="1274.9" stroke="#000" stroke-width="1.8"/>
<text x="1094" y="1283.9" font-size="22.5" text-anchor="end">75</text>
<line x1="1104.7" y1="1330.4" x2="1112.2" y2="1330.4" stroke="#000" stroke-width="1.8"/>
<text x="1094" y="1339.4" font-size="22.5" text-anchor="end">50</text>
<line x1="1104.7" y1="1385.9" x2="1112.2" y2="1385.9" stroke="#000" stroke-width="1.8"/>
<text x="1094" y="1394.9" font-size="22.5" text-anchor="end">25</text>
<line x1="1104.7" y1="1441.4" x2="1112.2" y2="1441.4" stroke="#000" stroke-width="1.8"/>
<text x="1094" y="1450.4" font-size="22.5" text-anchor="end">0</text>
<text x="0" y="0" font-size="31.8" text-anchor="middle" transform="translate(1027.5,1327) rotate(-90)">% CTV-diluted</text>
<line x1="1142.7" y1="1452.4" x2="1142.7" y2="1460.2" stroke="#000" stroke-width="1.8"/>
<text transform="translate(1150.2,1475.5) rotate(-45)" text-anchor="end" font-size="28">APRrg</text>
<line x1="1188.45" y1="1452.4" x2="1188.45" y2="1460.2" stroke="#000" stroke-width="1.8"/>
<text transform="translate(1195.95,1475.5) rotate(-45)" text-anchor="end" font-size="28">DASrg</text>
<line x1="1234.2" y1="1452.4" x2="1234.2" y2="1460.2" stroke="#000" stroke-width="1.8"/>
<text transform="translate(1241.7,1475.5) rotate(-45)" text-anchor="end" font-size="28">ANTrg</text>
<line x1="1279.95" y1="1452.4" x2="1279.95" y2="1460.2" stroke="#000" stroke-width="1.8"/>
<text transform="translate(1287.45,1475.5) rotate(-45)" text-anchor="end" font-size="28">MJ23tg</text>
<line x1="1355.3" y1="1452.4" x2="1355.3" y2="1460.2" stroke="#000" stroke-width="1.8"/>
<text transform="translate(1362.8,1475.5) rotate(-45)" text-anchor="end" font-size="28">APRrg</text>
<line x1="1401.05" y1="1452.4" x2="1401.05" y2="1460.2" stroke="#000" stroke-width="1.8"/>
<text transform="translate(1408.55,1475.5) rotate(-45)" text-anchor="end" font-size="28">DASrg</text>
<line x1="1446.8" y1="1452.4" x2="1446.8" y2="1460.2" stroke="#000" stroke-width="1.8"/>
<text transform="translate(1454.3,1475.5) rotate(-45)" text-anchor="end" font-size="28">ANTrg</text>
<line x1="1492.55" y1="1452.4" x2="1492.55" y2="1460.2" stroke="#000" stroke-width="1.8"/>
<text transform="translate(1500.05,1475.5) rotate(-45)" text-anchor="end" font-size="28">MJ23tg</text>
<line x1="1567.9" y1="1452.4" x2="1567.9" y2="1460.2" stroke="#000" stroke-width="1.8"/>
<text transform="translate(1575.4,1475.5) rotate(-45)" text-anchor="end" font-size="28">APRrg</text>
<line x1="1613.65" y1="1452.4" x2="1613.65" y2="1460.2" stroke="#000" stroke-width="1.8"/>
<text transform="translate(1621.15,1475.5) rotate(-45)" text-anchor="end" font-size="28">DASrg</text>
<line x1="1659.4" y1="1452.4" x2="1659.4" y2="1460.2" stroke="#000" stroke-width="1.8"/>
<text transform="translate(1666.9,1475.5) rotate(-45)" text-anchor="end" font-size="28">ANTrg</text>
<line x1="1705.15" y1="1452.4" x2="1705.15" y2="1460.2" stroke="#000" stroke-width="1.8"/>
<text transform="translate(1712.65,1475.5) rotate(-45)" text-anchor="end" font-size="28">MJ23tg</text>
<line x1="1780.5" y1="1452.4" x2="1780.5" y2="1460.2" stroke="#000" stroke-width="1.8"/>
<text transform="translate(1788,1475.5) rotate(-45)" text-anchor="end" font-size="28">APRrg</text>
<line x1="1826.25" y1="1452.4" x2="1826.25" y2="1460.2" stroke="#000" stroke-width="1.8"/>
<text transform="translate(1833.75,1475.5) rotate(-45)" text-anchor="end" font-size="28">DASrg</text>
<line x1="1872" y1="1452.4" x2="1872" y2="1460.2" stroke="#000" stroke-width="1.8"/>
<text transform="translate(1879.5,1475.5) rotate(-45)" text-anchor="end" font-size="28">ANTrg</text>
<line x1="1917.75" y1="1452.4" x2="1917.75" y2="1460.2" stroke="#000" stroke-width="1.8"/>
<text transform="translate(1925.25,1475.5) rotate(-45)" text-anchor="end" font-size="28">MJ23tg</text>
<line x1="1993.1" y1="1452.4" x2="1993.1" y2="1460.2" stroke="#000" stroke-width="1.8"/>
<text transform="translate(2000.6,1475.5) rotate(-45)" text-anchor="end" font-size="28">APRrg</text>
<line x1="2038.85" y1="1452.4" x2="2038.85" y2="1460.2" stroke="#000" stroke-width="1.8"/>
<text transform="translate(2046.35,1475.5) rotate(-45)" text-anchor="end" font-size="28">DASrg</text>
<line x1="2084.6" y1="1452.4" x2="2084.6" y2="1460.2" stroke="#000" stroke-width="1.8"/>
<text transform="translate(2092.1,1475.5) rotate(-45)" text-anchor="end" font-size="28">ANTrg</text>
<line x1="2130.35" y1="1452.4" x2="2130.35" y2="1460.2" stroke="#000" stroke-width="1.8"/>
<text transform="translate(2137.85,1475.5) rotate(-45)" text-anchor="end" font-size="28">MJ23tg</text>
<text x="1355.3" y="1227.6" font-size="21" text-anchor="middle">ns</text>
<text x="1401.05" y="1203.8" font-size="21" text-anchor="middle">ns</text>
<text x="1446.8" y="1227.6" font-size="21" text-anchor="middle">ns</text>
<text x="1492.55" y="1203.8" font-size="21" text-anchor="middle">ns</text>
<text x="1567.9" y="1227.6" font-size="21" text-anchor="middle">ns</text>
<text x="1613.65" y="1203.8" font-size="21" text-anchor="middle">ns</text>
<text x="1659.4" y="1227.6" font-size="21" text-anchor="middle">ns</text>
<text x="1705.15" y="1203.8" font-size="20" text-anchor="middle">0.0034</text>
<text x="1780.5" y="1227.6" font-size="21" text-anchor="middle">ns</text>
<text x="1826.25" y="1203.8" font-size="21" text-anchor="middle">ns</text>
<text x="1872" y="1227.6" font-size="21" text-anchor="middle">ns</text>
<text x="1917.75" y="1203.8" font-size="21" text-anchor="middle">ns</text>
<text x="1993.1" y="1227.6" font-size="21" text-anchor="middle">ns</text>
<text x="2034.2" y="1203.8" font-size="20" text-anchor="middle">0.0006</text>
<text x="2082.2" y="1227.6" font-size="20" text-anchor="middle">0.0037</text>
<text x="2130.35" y="1203.8" font-size="20" text-anchor="middle">0.0042</text>
<circle cx="1134.8" cy="1442.2" r="5.75" fill="#3a3a3a" stroke="#000" stroke-width="1.7"/>
<circle cx="1150.7" cy="1430.3" r="5.75" fill="#3a3a3a" stroke="#000" stroke-width="1.7"/>
<circle cx="1180" cy="1440.8" r="5.75" fill="#3a3a3a" stroke="#000" stroke-width="1.7"/>
<circle cx="1186" cy="1441.5" r="5.75" fill="#3a3a3a" stroke="#000" stroke-width="1.7"/>
<circle cx="1192" cy="1440.8" r="5.75" fill="#3a3a3a" stroke="#000" stroke-width="1.7"/>
<circle cx="1197" cy="1440.3" r="5.75" fill="#3a3a3a" stroke="#000" stroke-width="1.7"/>
<circle cx="1226" cy="1438.8" r="5.75" fill="#3a3a3a" stroke="#000" stroke-width="1.7"/>
<circle cx="1232" cy="1439.5" r="5.75" fill="#3a3a3a" stroke="#000" stroke-width="1.7"/>
<circle cx="1238" cy="1438.8" r="5.75" fill="#3a3a3a" stroke="#000" stroke-width="1.7"/>
<circle cx="1243.3" cy="1435.9" r="5.75" fill="#3a3a3a" stroke="#000" stroke-width="1.7"/>
<circle cx="1272.6" cy="1428.3" r="5.75" fill="#229bb5" stroke="#000" stroke-width="1.7"/>
<circle cx="1286.5" cy="1432.9" r="5.75" fill="#229bb5" stroke="#000" stroke-width="1.7"/>
<circle cx="1278.6" cy="1439.8" r="5.75" fill="#229bb5" stroke="#000" stroke-width="1.7"/>
<circle cx="1285" cy="1438" r="5.75" fill="#229bb5" stroke="#000" stroke-width="1.7"/>
<circle cx="1348" cy="1430.3" r="5.75" fill="#3a3a3a" stroke="#000" stroke-width="1.7"/>
<circle cx="1361.9" cy="1432.3" r="5.75" fill="#3a3a3a" stroke="#000" stroke-width="1.7"/>
<circle cx="1354.9" cy="1441.8" r="5.75" fill="#3a3a3a" stroke="#000" stroke-width="1.7"/>
<circle cx="1358" cy="1440.8" r="5.75" fill="#3a3a3a" stroke="#000" stroke-width="1.7"/>
<circle cx="1393" cy="1440.8" r="5.75" fill="#3a3a3a" stroke="#000" stroke-width="1.7"/>
<circle cx="1399" cy="1441.5" r="5.75" fill="#3a3a3a" stroke="#000" stroke-width="1.7"/>
<circle cx="1405" cy="1440.8" r="5.75" fill="#3a3a3a" stroke="#000" stroke-width="1.7"/>
<circle cx="1409" cy="1440.3" r="5.75" fill="#3a3a3a" stroke="#000" stroke-width="1.7"/>
<circle cx="1439" cy="1438.8" r="5.75" fill="#3a3a3a" stroke="#000" stroke-width="1.7"/>
<circle cx="1445" cy="1439.5" r="5.75" fill="#3a3a3a" stroke="#000" stroke-width="1.7"/>
<circle cx="1451" cy="1438.8" r="5.75" fill="#3a3a3a" stroke="#000" stroke-width="1.7"/>
<circle cx="1455.1" cy="1429.9" r="5.75" fill="#3a3a3a" stroke="#000" stroke-width="1.7"/>
<circle cx="1491.8" cy="1413" r="5.75" fill="#229bb5" stroke="#000" stroke-width="1.7"/>
<circle cx="1483.9" cy="1434.9" r="5.75" fill="#229bb5" stroke="#000" stroke-width="1.7"/>
<circle cx="1488.8" cy="1438.8" r="5.75" fill="#229bb5" stroke="#000" stroke-width="1.7"/>
<circle cx="1499.7" cy="1434.9" r="5.75" fill="#229bb5" stroke="#000" stroke-width="1.7"/>
<circle cx="1495.8" cy="1437.5" r="5.75" fill="#229bb5" stroke="#000" stroke-width="1.7"/>
<circle cx="1559.4" cy="1433.9" r="5.75" fill="#3a3a3a" stroke="#000" stroke-width="1.7"/>
<circle cx="1576.6" cy="1432.9" r="5.75" fill="#3a3a3a" stroke="#000" stroke-width="1.7"/>
<circle cx="1563.7" cy="1441.8" r="5.75" fill="#3a3a3a" stroke="#000" stroke-width="1.7"/>
<circle cx="1571.6" cy="1441.8" r="5.75" fill="#3a3a3a" stroke="#000" stroke-width="1.7"/>
<circle cx="1605" cy="1439.4" r="5.75" fill="#3a3a3a" stroke="#000" stroke-width="1.7"/>
<circle cx="1611" cy="1440" r="5.75" fill="#3a3a3a" stroke="#000" stroke-width="1.7"/>
<circle cx="1617" cy="1439.4" r="5.75" fill="#3a3a3a" stroke="#000" stroke-width="1.7"/>
<circle cx="1621" cy="1438.8" r="5.75" fill="#3a3a3a" stroke="#000" stroke-width="1.7"/>
<circle cx="1651" cy="1439.4" r="5.75" fill="#3a3a3a" stroke="#000" stroke-width="1.7"/>
<circle cx="1657" cy="1440" r="5.75" fill="#3a3a3a" stroke="#000" stroke-width="1.7"/>
<circle cx="1663" cy="1439.4" r="5.75" fill="#3a3a3a" stroke="#000" stroke-width="1.7"/>
<circle cx="1667.8" cy="1435.9" r="5.75" fill="#3a3a3a" stroke="#000" stroke-width="1.7"/>
<circle cx="1712.1" cy="1226.6" r="5.75" fill="#229bb5" stroke="#000" stroke-width="1.7"/>
<circle cx="1697" cy="1237.9" r="5.75" fill="#229bb5" stroke="#000" stroke-width="1.7"/>
<circle cx="1698.2" cy="1247.4" r="5.75" fill="#229bb5" stroke="#000" stroke-width="1.7"/>
<circle cx="1710.9" cy="1247.4" r="5.75" fill="#229bb5" stroke="#000" stroke-width="1.7"/>
<circle cx="1704.5" cy="1262.3" r="5.75" fill="#229bb5" stroke="#000" stroke-width="1.7"/>
<circle cx="1698.2" cy="1379.3" r="5.75" fill="#229bb5" stroke="#000" stroke-width="1.7"/>
<circle cx="1710.9" cy="1382.3" r="5.75" fill="#229bb5" stroke="#000" stroke-width="1.7"/>
<circle cx="1704.5" cy="1390.2" r="5.75" fill="#229bb5" stroke="#000" stroke-width="1.7"/>
<circle cx="1771" cy="1437.8" r="5.75" fill="#3a3a3a" stroke="#000" stroke-width="1.7"/>
<circle cx="1776" cy="1442.8" r="5.75" fill="#3a3a3a" stroke="#000" stroke-width="1.7"/>
<circle cx="1788.8" cy="1435.9" r="5.75" fill="#3a3a3a" stroke="#000" stroke-width="1.7"/>
<circle cx="1783.9" cy="1438.8" r="5.75" fill="#3a3a3a" stroke="#000" stroke-width="1.7"/>
<circle cx="1818" cy="1438.8" r="5.75" fill="#3a3a3a" stroke="#000" stroke-width="1.7"/>
<circle cx="1824" cy="1439.5" r="5.75" fill="#3a3a3a" stroke="#000" stroke-width="1.7"/>
<circle cx="1830" cy="1438.8" r="5.75" fill="#3a3a3a" stroke="#000" stroke-width="1.7"/>
<circle cx="1833" cy="1438.3" r="5.75" fill="#3a3a3a" stroke="#000" stroke-width="1.7"/>
<circle cx="1864" cy="1438.8" r="5.75" fill="#3a3a3a" stroke="#000" stroke-width="1.7"/>
<circle cx="1870" cy="1439.5" r="5.75" fill="#3a3a3a" stroke="#000" stroke-width="1.7"/>
<circle cx="1876" cy="1438.8" r="5.75" fill="#3a3a3a" stroke="#000" stroke-width="1.7"/>
<circle cx="1916.8" cy="1229.6" r="5.75" fill="#229bb5" stroke="#000" stroke-width="1.7"/>
<circle cx="1909.8" cy="1403.1" r="5.75" fill="#229bb5" stroke="#000" stroke-width="1.7"/>
<circle cx="1923.7" cy="1406.1" r="5.75" fill="#229bb5" stroke="#000" stroke-width="1.7"/>
<circle cx="1916.8" cy="1414.6" r="5.75" fill="#229bb5" stroke="#000" stroke-width="1.7"/>
<circle cx="1992.7" cy="1342.3" r="5.75" fill="#3a3a3a" stroke="#000" stroke-width="1.7"/>
<circle cx="1985.6" cy="1429.8" r="5.75" fill="#3a3a3a" stroke="#000" stroke-width="1.7"/>
<circle cx="1999.9" cy="1432.1" r="5.75" fill="#3a3a3a" stroke="#000" stroke-width="1.7"/>
<circle cx="1992.7" cy="1434" r="5.75" fill="#3a3a3a" stroke="#000" stroke-width="1.7"/>
<circle cx="2037.9" cy="1273.9" r="5.75" fill="#3a3a3a" stroke="#000" stroke-width="1.7"/>
<circle cx="2031.3" cy="1321.6" r="5.75" fill="#3a3a3a" stroke="#000" stroke-width="1.7"/>
<circle cx="2037.9" cy="1334.8" r="5.75" fill="#3a3a3a" stroke="#000" stroke-width="1.7"/>
<circle cx="2045.1" cy="1333.8" r="5.75" fill="#3a3a3a" stroke="#000" stroke-width="1.7"/>
<circle cx="2076.5" cy="1279.2" r="5.75" fill="#3a3a3a" stroke="#000" stroke-width="1.7"/>
<circle cx="2090.6" cy="1273.9" r="5.75" fill="#3a3a3a" stroke="#000" stroke-width="1.7"/>
<circle cx="2084" cy="1283.4" r="5.75" fill="#3a3a3a" stroke="#000" stroke-width="1.7"/>
<circle cx="2077.1" cy="1374.3" r="5.75" fill="#3a3a3a" stroke="#000" stroke-width="1.7"/>
<circle cx="2090.6" cy="1375.2" r="5.75" fill="#3a3a3a" stroke="#000" stroke-width="1.7"/>
<circle cx="2084" cy="1381.3" r="5.75" fill="#3a3a3a" stroke="#000" stroke-width="1.7"/>
<circle cx="2129.2" cy="1241.2" r="5.75" fill="#229bb5" stroke="#000" stroke-width="1.7"/>
<circle cx="2136.2" cy="1244.4" r="5.75" fill="#229bb5" stroke="#000" stroke-width="1.7"/>
<circle cx="2123" cy="1249.1" r="5.75" fill="#229bb5" stroke="#000" stroke-width="1.7"/>
<circle cx="2129.2" cy="1259.4" r="5.75" fill="#229bb5" stroke="#000" stroke-width="1.7"/>
<circle cx="2122.6" cy="1302.7" r="5.75" fill="#229bb5" stroke="#000" stroke-width="1.7"/>
<circle cx="2130.2" cy="1308.4" r="5.75" fill="#229bb5" stroke="#000" stroke-width="1.7"/>
<circle cx="2136.2" cy="1308.4" r="5.75" fill="#229bb5" stroke="#000" stroke-width="1.7"/>
<rect x="1127.5" y="1433.3" width="30.4" height="5.8" fill="#a01d25"/>
<rect x="1173.25" y="1437.9" width="30.4" height="5.8" fill="#a01d25"/>
<rect x="1219" y="1435.9" width="30.4" height="5.8" fill="#a01d25"/>
<rect x="1264.75" y="1432.6" width="30.4" height="5.8" fill="#a01d25"/>
<rect x="1340.1" y="1432.6" width="30.4" height="5.8" fill="#a01d25"/>
<rect x="1385.85" y="1437.9" width="30.4" height="5.8" fill="#a01d25"/>
<rect x="1431.6" y="1435.3" width="30.4" height="5.8" fill="#a01d25"/>
<rect x="1477.35" y="1428.6" width="30.4" height="5.8" fill="#a01d25"/>
<rect x="1552.7" y="1434.5" width="30.4" height="5.8" fill="#a01d25"/>
<rect x="1598.45" y="1436.5" width="30.4" height="5.8" fill="#a01d25"/>
<rect x="1644.2" y="1435.9" width="30.4" height="5.8" fill="#a01d25"/>
<rect x="1689.95" y="1294.1" width="30.4" height="5.8" fill="#a01d25"/>
<line x1="1705.15" y1="1271.2" x2="1705.15" y2="1322.4" stroke="#000" stroke-width="1.7"/>
<line x1="1701.35" y1="1271.2" x2="1708.95" y2="1271.2" stroke="#000" stroke-width="1.7"/>
<line x1="1701.35" y1="1322.4" x2="1708.95" y2="1322.4" stroke="#000" stroke-width="1.7"/>
<rect x="1765.3" y="1435.3" width="30.4" height="5.8" fill="#a01d25"/>
<rect x="1811.05" y="1435.9" width="30.4" height="5.8" fill="#a01d25"/>
<rect x="1856.8" y="1435.9" width="30.4" height="5.8" fill="#a01d25"/>
<rect x="1902.55" y="1360.6" width="30.4" height="5.8" fill="#a01d25"/>
<line x1="1917.75" y1="1318.4" x2="1917.75" y2="1408.1" stroke="#000" stroke-width="1.7"/>
<line x1="1913.95" y1="1318.4" x2="1921.55" y2="1318.4" stroke="#000" stroke-width="1.7"/>
<line x1="1913.95" y1="1408.1" x2="1921.55" y2="1408.1" stroke="#000" stroke-width="1.7"/>
<rect x="1977.9" y="1407.2" width="30.4" height="5.8" fill="#a01d25"/>
<line x1="1993.1" y1="1387.5" x2="1993.1" y2="1433.6" stroke="#000" stroke-width="1.7"/>
<line x1="1989.3" y1="1387.5" x2="1996.9" y2="1387.5" stroke="#000" stroke-width="1.7"/>
<line x1="1989.3" y1="1433.6" x2="1996.9" y2="1433.6" stroke="#000" stroke-width="1.7"/>
<rect x="2023.65" y="1313" width="30.4" height="5.8" fill="#a01d25"/>
<line x1="2038.85" y1="1301.8" x2="2038.85" y2="1327.2" stroke="#000" stroke-width="1.7"/>
<line x1="2035.05" y1="1301.8" x2="2042.65" y2="1301.8" stroke="#000" stroke-width="1.7"/>
<line x1="2035.05" y1="1327.2" x2="2042.65" y2="1327.2" stroke="#000" stroke-width="1.7"/>
<rect x="2069.4" y="1325.3" width="30.4" height="5.8" fill="#a01d25"/>
<line x1="2084.6" y1="1305.9" x2="2084.6" y2="1350.4" stroke="#000" stroke-width="1.7"/>
<line x1="2080.8" y1="1305.9" x2="2088.4" y2="1305.9" stroke="#000" stroke-width="1.7"/>
<line x1="2080.8" y1="1350.4" x2="2088.4" y2="1350.4" stroke="#000" stroke-width="1.7"/>
<rect x="2115.15" y="1270.3" width="30.4" height="5.8" fill="#a01d25"/>
<line x1="2130.35" y1="1262.3" x2="2130.35" y2="1285.2" stroke="#000" stroke-width="1.7"/>
<line x1="2126.55" y1="1262.3" x2="2134.15" y2="1262.3" stroke="#000" stroke-width="1.7"/>
<line x1="2126.55" y1="1285.2" x2="2134.15" y2="1285.2" stroke="#000" stroke-width="1.7"/>
</svg></body></html>
